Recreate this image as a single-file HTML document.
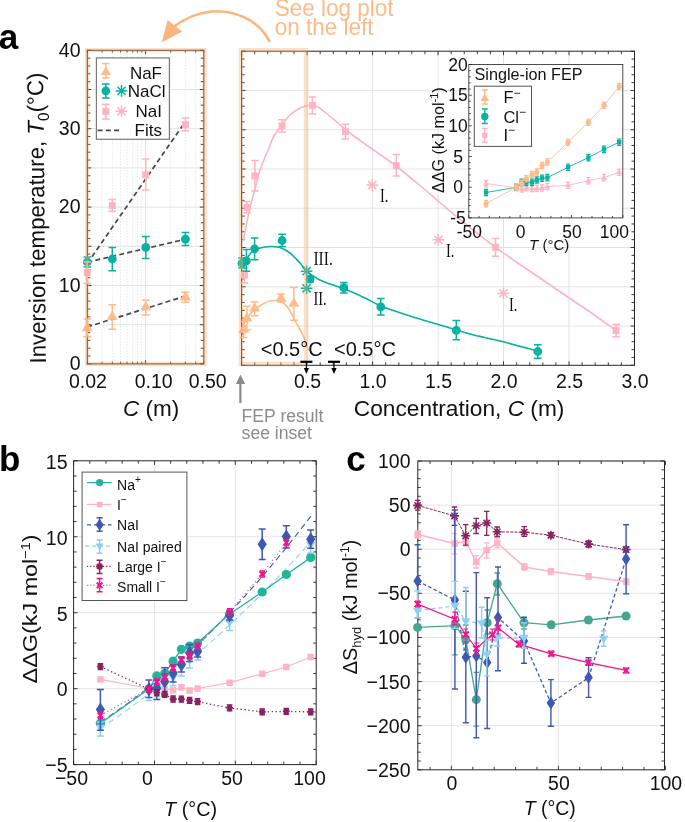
<!DOCTYPE html><html><head><meta charset="utf-8"><style>html,body{margin:0;padding:0;background:#fff;width:685px;height:822px;overflow:hidden}svg{display:block;will-change:transform}</style></head><body>
<svg width="685" height="822" viewBox="0 0 685 822">
<rect width="685" height="822" fill="#fff"/>
<line x1="87.30" y1="324.70" x2="203.80" y2="324.70" stroke="#e3e3e3" stroke-width="1" />
<line x1="87.30" y1="285.50" x2="203.80" y2="285.50" stroke="#e3e3e3" stroke-width="1" />
<line x1="87.30" y1="246.30" x2="203.80" y2="246.30" stroke="#e3e3e3" stroke-width="1" />
<line x1="87.30" y1="207.10" x2="203.80" y2="207.10" stroke="#e3e3e3" stroke-width="1" />
<line x1="87.30" y1="167.90" x2="203.80" y2="167.90" stroke="#e3e3e3" stroke-width="1" />
<line x1="87.30" y1="128.70" x2="203.80" y2="128.70" stroke="#e3e3e3" stroke-width="1" />
<line x1="87.30" y1="89.50" x2="203.80" y2="89.50" stroke="#e3e3e3" stroke-width="1" />
<line x1="101.97" y1="50.30" x2="101.97" y2="363.90" stroke="#d9d9d9" stroke-width="0.8" stroke-dasharray="1.2,1.8"/>
<line x1="112.39" y1="50.30" x2="112.39" y2="363.90" stroke="#d9d9d9" stroke-width="0.8" stroke-dasharray="1.2,1.8"/>
<line x1="120.46" y1="50.30" x2="120.46" y2="363.90" stroke="#d9d9d9" stroke-width="0.8" stroke-dasharray="1.2,1.8"/>
<line x1="127.06" y1="50.30" x2="127.06" y2="363.90" stroke="#d9d9d9" stroke-width="0.8" stroke-dasharray="1.2,1.8"/>
<line x1="132.64" y1="50.30" x2="132.64" y2="363.90" stroke="#d9d9d9" stroke-width="0.8" stroke-dasharray="1.2,1.8"/>
<line x1="137.47" y1="50.30" x2="137.47" y2="363.90" stroke="#d9d9d9" stroke-width="0.8" stroke-dasharray="1.2,1.8"/>
<line x1="141.74" y1="50.30" x2="141.74" y2="363.90" stroke="#d9d9d9" stroke-width="0.8" stroke-dasharray="1.2,1.8"/>
<line x1="170.64" y1="50.30" x2="170.64" y2="363.90" stroke="#d9d9d9" stroke-width="0.8" stroke-dasharray="1.2,1.8"/>
<line x1="185.31" y1="50.30" x2="185.31" y2="363.90" stroke="#d9d9d9" stroke-width="0.8" stroke-dasharray="1.2,1.8"/>
<line x1="195.72" y1="50.30" x2="195.72" y2="363.90" stroke="#d9d9d9" stroke-width="0.8" stroke-dasharray="1.2,1.8"/>
<line x1="145.55" y1="50.30" x2="145.55" y2="363.90" stroke="#e3e3e3" stroke-width="1" />
<rect x="87.3" y="50.3" width="116.50" height="313.60" fill="none" stroke="#262626" stroke-width="1"/>
<line x1="87.30" y1="363.90" x2="91.30" y2="363.90" stroke="#262626" stroke-width="0.9" />
<line x1="203.80" y1="363.90" x2="199.80" y2="363.90" stroke="#262626" stroke-width="0.9" />
<line x1="87.30" y1="356.06" x2="90.30" y2="356.06" stroke="#262626" stroke-width="0.9" />
<line x1="203.80" y1="356.06" x2="200.80" y2="356.06" stroke="#262626" stroke-width="0.9" />
<line x1="87.30" y1="348.22" x2="90.30" y2="348.22" stroke="#262626" stroke-width="0.9" />
<line x1="203.80" y1="348.22" x2="200.80" y2="348.22" stroke="#262626" stroke-width="0.9" />
<line x1="87.30" y1="340.38" x2="90.30" y2="340.38" stroke="#262626" stroke-width="0.9" />
<line x1="203.80" y1="340.38" x2="200.80" y2="340.38" stroke="#262626" stroke-width="0.9" />
<line x1="87.30" y1="332.54" x2="90.30" y2="332.54" stroke="#262626" stroke-width="0.9" />
<line x1="203.80" y1="332.54" x2="200.80" y2="332.54" stroke="#262626" stroke-width="0.9" />
<line x1="87.30" y1="324.70" x2="91.30" y2="324.70" stroke="#262626" stroke-width="0.9" />
<line x1="203.80" y1="324.70" x2="199.80" y2="324.70" stroke="#262626" stroke-width="0.9" />
<line x1="87.30" y1="316.86" x2="90.30" y2="316.86" stroke="#262626" stroke-width="0.9" />
<line x1="203.80" y1="316.86" x2="200.80" y2="316.86" stroke="#262626" stroke-width="0.9" />
<line x1="87.30" y1="309.02" x2="90.30" y2="309.02" stroke="#262626" stroke-width="0.9" />
<line x1="203.80" y1="309.02" x2="200.80" y2="309.02" stroke="#262626" stroke-width="0.9" />
<line x1="87.30" y1="301.18" x2="90.30" y2="301.18" stroke="#262626" stroke-width="0.9" />
<line x1="203.80" y1="301.18" x2="200.80" y2="301.18" stroke="#262626" stroke-width="0.9" />
<line x1="87.30" y1="293.34" x2="90.30" y2="293.34" stroke="#262626" stroke-width="0.9" />
<line x1="203.80" y1="293.34" x2="200.80" y2="293.34" stroke="#262626" stroke-width="0.9" />
<line x1="87.30" y1="285.50" x2="91.30" y2="285.50" stroke="#262626" stroke-width="0.9" />
<line x1="203.80" y1="285.50" x2="199.80" y2="285.50" stroke="#262626" stroke-width="0.9" />
<line x1="87.30" y1="277.66" x2="90.30" y2="277.66" stroke="#262626" stroke-width="0.9" />
<line x1="203.80" y1="277.66" x2="200.80" y2="277.66" stroke="#262626" stroke-width="0.9" />
<line x1="87.30" y1="269.82" x2="90.30" y2="269.82" stroke="#262626" stroke-width="0.9" />
<line x1="203.80" y1="269.82" x2="200.80" y2="269.82" stroke="#262626" stroke-width="0.9" />
<line x1="87.30" y1="261.98" x2="90.30" y2="261.98" stroke="#262626" stroke-width="0.9" />
<line x1="203.80" y1="261.98" x2="200.80" y2="261.98" stroke="#262626" stroke-width="0.9" />
<line x1="87.30" y1="254.14" x2="90.30" y2="254.14" stroke="#262626" stroke-width="0.9" />
<line x1="203.80" y1="254.14" x2="200.80" y2="254.14" stroke="#262626" stroke-width="0.9" />
<line x1="87.30" y1="246.30" x2="91.30" y2="246.30" stroke="#262626" stroke-width="0.9" />
<line x1="203.80" y1="246.30" x2="199.80" y2="246.30" stroke="#262626" stroke-width="0.9" />
<line x1="87.30" y1="238.46" x2="90.30" y2="238.46" stroke="#262626" stroke-width="0.9" />
<line x1="203.80" y1="238.46" x2="200.80" y2="238.46" stroke="#262626" stroke-width="0.9" />
<line x1="87.30" y1="230.62" x2="90.30" y2="230.62" stroke="#262626" stroke-width="0.9" />
<line x1="203.80" y1="230.62" x2="200.80" y2="230.62" stroke="#262626" stroke-width="0.9" />
<line x1="87.30" y1="222.78" x2="90.30" y2="222.78" stroke="#262626" stroke-width="0.9" />
<line x1="203.80" y1="222.78" x2="200.80" y2="222.78" stroke="#262626" stroke-width="0.9" />
<line x1="87.30" y1="214.94" x2="90.30" y2="214.94" stroke="#262626" stroke-width="0.9" />
<line x1="203.80" y1="214.94" x2="200.80" y2="214.94" stroke="#262626" stroke-width="0.9" />
<line x1="87.30" y1="207.10" x2="91.30" y2="207.10" stroke="#262626" stroke-width="0.9" />
<line x1="203.80" y1="207.10" x2="199.80" y2="207.10" stroke="#262626" stroke-width="0.9" />
<line x1="87.30" y1="199.26" x2="90.30" y2="199.26" stroke="#262626" stroke-width="0.9" />
<line x1="203.80" y1="199.26" x2="200.80" y2="199.26" stroke="#262626" stroke-width="0.9" />
<line x1="87.30" y1="191.42" x2="90.30" y2="191.42" stroke="#262626" stroke-width="0.9" />
<line x1="203.80" y1="191.42" x2="200.80" y2="191.42" stroke="#262626" stroke-width="0.9" />
<line x1="87.30" y1="183.58" x2="90.30" y2="183.58" stroke="#262626" stroke-width="0.9" />
<line x1="203.80" y1="183.58" x2="200.80" y2="183.58" stroke="#262626" stroke-width="0.9" />
<line x1="87.30" y1="175.74" x2="90.30" y2="175.74" stroke="#262626" stroke-width="0.9" />
<line x1="203.80" y1="175.74" x2="200.80" y2="175.74" stroke="#262626" stroke-width="0.9" />
<line x1="87.30" y1="167.90" x2="91.30" y2="167.90" stroke="#262626" stroke-width="0.9" />
<line x1="203.80" y1="167.90" x2="199.80" y2="167.90" stroke="#262626" stroke-width="0.9" />
<line x1="87.30" y1="160.06" x2="90.30" y2="160.06" stroke="#262626" stroke-width="0.9" />
<line x1="203.80" y1="160.06" x2="200.80" y2="160.06" stroke="#262626" stroke-width="0.9" />
<line x1="87.30" y1="152.22" x2="90.30" y2="152.22" stroke="#262626" stroke-width="0.9" />
<line x1="203.80" y1="152.22" x2="200.80" y2="152.22" stroke="#262626" stroke-width="0.9" />
<line x1="87.30" y1="144.38" x2="90.30" y2="144.38" stroke="#262626" stroke-width="0.9" />
<line x1="203.80" y1="144.38" x2="200.80" y2="144.38" stroke="#262626" stroke-width="0.9" />
<line x1="87.30" y1="136.54" x2="90.30" y2="136.54" stroke="#262626" stroke-width="0.9" />
<line x1="203.80" y1="136.54" x2="200.80" y2="136.54" stroke="#262626" stroke-width="0.9" />
<line x1="87.30" y1="128.70" x2="91.30" y2="128.70" stroke="#262626" stroke-width="0.9" />
<line x1="203.80" y1="128.70" x2="199.80" y2="128.70" stroke="#262626" stroke-width="0.9" />
<line x1="87.30" y1="120.86" x2="90.30" y2="120.86" stroke="#262626" stroke-width="0.9" />
<line x1="203.80" y1="120.86" x2="200.80" y2="120.86" stroke="#262626" stroke-width="0.9" />
<line x1="87.30" y1="113.02" x2="90.30" y2="113.02" stroke="#262626" stroke-width="0.9" />
<line x1="203.80" y1="113.02" x2="200.80" y2="113.02" stroke="#262626" stroke-width="0.9" />
<line x1="87.30" y1="105.18" x2="90.30" y2="105.18" stroke="#262626" stroke-width="0.9" />
<line x1="203.80" y1="105.18" x2="200.80" y2="105.18" stroke="#262626" stroke-width="0.9" />
<line x1="87.30" y1="97.34" x2="90.30" y2="97.34" stroke="#262626" stroke-width="0.9" />
<line x1="203.80" y1="97.34" x2="200.80" y2="97.34" stroke="#262626" stroke-width="0.9" />
<line x1="87.30" y1="89.50" x2="91.30" y2="89.50" stroke="#262626" stroke-width="0.9" />
<line x1="203.80" y1="89.50" x2="199.80" y2="89.50" stroke="#262626" stroke-width="0.9" />
<line x1="87.30" y1="81.66" x2="90.30" y2="81.66" stroke="#262626" stroke-width="0.9" />
<line x1="203.80" y1="81.66" x2="200.80" y2="81.66" stroke="#262626" stroke-width="0.9" />
<line x1="87.30" y1="73.82" x2="90.30" y2="73.82" stroke="#262626" stroke-width="0.9" />
<line x1="203.80" y1="73.82" x2="200.80" y2="73.82" stroke="#262626" stroke-width="0.9" />
<line x1="87.30" y1="65.98" x2="90.30" y2="65.98" stroke="#262626" stroke-width="0.9" />
<line x1="203.80" y1="65.98" x2="200.80" y2="65.98" stroke="#262626" stroke-width="0.9" />
<line x1="87.30" y1="58.14" x2="90.30" y2="58.14" stroke="#262626" stroke-width="0.9" />
<line x1="203.80" y1="58.14" x2="200.80" y2="58.14" stroke="#262626" stroke-width="0.9" />
<line x1="87.30" y1="50.30" x2="91.30" y2="50.30" stroke="#262626" stroke-width="0.9" />
<line x1="203.80" y1="50.30" x2="199.80" y2="50.30" stroke="#262626" stroke-width="0.9" />
<line x1="87.30" y1="363.90" x2="87.30" y2="361.70" stroke="#262626" stroke-width="0.9" />
<line x1="87.30" y1="50.30" x2="87.30" y2="52.50" stroke="#262626" stroke-width="0.9" />
<line x1="101.97" y1="363.90" x2="101.97" y2="361.70" stroke="#262626" stroke-width="0.9" />
<line x1="101.97" y1="50.30" x2="101.97" y2="52.50" stroke="#262626" stroke-width="0.9" />
<line x1="112.39" y1="363.90" x2="112.39" y2="361.70" stroke="#262626" stroke-width="0.9" />
<line x1="112.39" y1="50.30" x2="112.39" y2="52.50" stroke="#262626" stroke-width="0.9" />
<line x1="120.46" y1="363.90" x2="120.46" y2="361.70" stroke="#262626" stroke-width="0.9" />
<line x1="120.46" y1="50.30" x2="120.46" y2="52.50" stroke="#262626" stroke-width="0.9" />
<line x1="127.06" y1="363.90" x2="127.06" y2="361.70" stroke="#262626" stroke-width="0.9" />
<line x1="127.06" y1="50.30" x2="127.06" y2="52.50" stroke="#262626" stroke-width="0.9" />
<line x1="132.64" y1="363.90" x2="132.64" y2="361.70" stroke="#262626" stroke-width="0.9" />
<line x1="132.64" y1="50.30" x2="132.64" y2="52.50" stroke="#262626" stroke-width="0.9" />
<line x1="137.47" y1="363.90" x2="137.47" y2="361.70" stroke="#262626" stroke-width="0.9" />
<line x1="137.47" y1="50.30" x2="137.47" y2="52.50" stroke="#262626" stroke-width="0.9" />
<line x1="141.74" y1="363.90" x2="141.74" y2="361.70" stroke="#262626" stroke-width="0.9" />
<line x1="141.74" y1="50.30" x2="141.74" y2="52.50" stroke="#262626" stroke-width="0.9" />
<line x1="145.55" y1="363.90" x2="145.55" y2="360.40" stroke="#262626" stroke-width="0.9" />
<line x1="145.55" y1="50.30" x2="145.55" y2="53.80" stroke="#262626" stroke-width="0.9" />
<line x1="170.64" y1="363.90" x2="170.64" y2="361.70" stroke="#262626" stroke-width="0.9" />
<line x1="170.64" y1="50.30" x2="170.64" y2="52.50" stroke="#262626" stroke-width="0.9" />
<line x1="185.31" y1="363.90" x2="185.31" y2="361.70" stroke="#262626" stroke-width="0.9" />
<line x1="185.31" y1="50.30" x2="185.31" y2="52.50" stroke="#262626" stroke-width="0.9" />
<line x1="195.72" y1="363.90" x2="195.72" y2="361.70" stroke="#262626" stroke-width="0.9" />
<line x1="195.72" y1="50.30" x2="195.72" y2="52.50" stroke="#262626" stroke-width="0.9" />
<line x1="203.80" y1="363.90" x2="203.80" y2="361.70" stroke="#262626" stroke-width="0.9" />
<line x1="203.80" y1="50.30" x2="203.80" y2="52.50" stroke="#262626" stroke-width="0.9" />
<line x1="87.30" y1="327.00" x2="185.40" y2="296.00" stroke="#474747" stroke-width="1.7" stroke-dasharray="5,3.2"/>
<line x1="87.30" y1="262.20" x2="185.40" y2="239.20" stroke="#474747" stroke-width="1.7" stroke-dasharray="5,3.2"/>
<line x1="87.30" y1="263.50" x2="184.00" y2="123.50" stroke="#474747" stroke-width="1.7" stroke-dasharray="5,3.2"/>
<path d="M87.30,318.90V336.50M83.40,318.90H91.20M83.40,336.50H91.20" stroke="#fdbc8a" stroke-width="1.5" fill="none"/>
<polygon points="87.30,321.79 92.80,331.14 81.80,331.14" fill="#fdbc8a"/>
<path d="M112.30,304.70V329.30M108.40,304.70H116.20M108.40,329.30H116.20" stroke="#fdbc8a" stroke-width="1.5" fill="none"/>
<polygon points="112.30,310.39 117.80,319.74 106.80,319.74" fill="#fdbc8a"/>
<path d="M145.80,300.30V315.10M141.90,300.30H149.70M141.90,315.10H149.70" stroke="#fdbc8a" stroke-width="1.5" fill="none"/>
<polygon points="145.80,300.99 151.30,310.34 140.30,310.34" fill="#fdbc8a"/>
<path d="M185.40,292.30V302.20M181.50,292.30H189.30M181.50,302.20H189.30" stroke="#fdbc8a" stroke-width="1.5" fill="none"/>
<polygon points="185.40,291.09 190.90,300.44 179.90,300.44" fill="#fdbc8a"/>
<path d="M87.30,257.00V267.00M83.50,257.00H91.10M83.50,267.00H91.10" stroke="#08b2a0" stroke-width="1.5" fill="none"/>
<circle cx="87.30" cy="262.00" r="4.4" fill="#08b2a0"/>
<path d="M112.30,247.50V270.70M108.50,247.50H116.10M108.50,270.70H116.10" stroke="#08b2a0" stroke-width="1.5" fill="none"/>
<circle cx="112.30" cy="259.00" r="4.4" fill="#08b2a0"/>
<path d="M145.80,236.40V258.40M142.00,236.40H149.60M142.00,258.40H149.60" stroke="#08b2a0" stroke-width="1.5" fill="none"/>
<circle cx="145.80" cy="247.40" r="4.4" fill="#08b2a0"/>
<path d="M185.40,232.60V245.50M181.60,232.60H189.20M181.60,245.50H189.20" stroke="#08b2a0" stroke-width="1.5" fill="none"/>
<circle cx="185.40" cy="239.20" r="4.4" fill="#08b2a0"/>
<path d="M87.30,262.00V283.40M83.50,262.00H91.10M83.50,283.40H91.10" stroke="#feb4c4" stroke-width="1.5" fill="none"/>
<rect x="83.85" y="269.05" width="6.9" height="6.9" fill="#feb4c4"/>
<path d="M112.30,199.50V211.30M108.50,199.50H116.10M108.50,211.30H116.10" stroke="#feb4c4" stroke-width="1.5" fill="none"/>
<rect x="108.85" y="202.15" width="6.9" height="6.9" fill="#feb4c4"/>
<path d="M145.80,159.00V190.00M142.00,159.00H149.60M142.00,190.00H149.60" stroke="#feb4c4" stroke-width="1.5" fill="none"/>
<rect x="142.35" y="171.35" width="6.9" height="6.9" fill="#feb4c4"/>
<path d="M185.40,118.10V130.70M181.60,118.10H189.20M181.60,130.70H189.20" stroke="#feb4c4" stroke-width="1.5" fill="none"/>
<rect x="181.95" y="121.05" width="6.9" height="6.9" fill="#feb4c4"/>
<rect x="96.4" y="57.9" width="73" height="81.4" fill="#fff" stroke="#7a7a7a" stroke-width="1.2"/>
<path d="M105.80,63.40V78.00M102.00,63.40H109.60M102.00,78.00H109.60" stroke="#fdbc8a" stroke-width="1.5" fill="none"/>
<polygon points="105.80,66.20 111.00,75.04 100.60,75.04" fill="#fdbc8a"/>
<path d="M105.80,83.90V98.10M102.00,83.90H109.60M102.00,98.10H109.60" stroke="#08b2a0" stroke-width="1.5" fill="none"/>
<circle cx="105.80" cy="90.90" r="4.3" fill="#08b2a0"/>
<path d="M115.70,90.90L127.30,90.90M117.40,86.80L125.60,95.00M121.50,85.10L121.50,96.70M125.60,86.80L117.40,95.00" stroke="#08b2a0" stroke-width="1.5" fill="none"/>
<path d="M105.80,104.30V119.00M102.00,104.30H109.60M102.00,119.00H109.60" stroke="#feb4c4" stroke-width="1.5" fill="none"/>
<rect x="102.35" y="107.85" width="6.9" height="6.9" fill="#feb4c4"/>
<path d="M115.70,111.30L127.30,111.30M117.40,107.20L125.60,115.40M121.50,105.50L121.50,117.10M125.60,107.20L117.40,115.40" stroke="#feb4c4" stroke-width="1.5" fill="none"/>
<line x1="97.60" y1="130.40" x2="122.00" y2="130.40" stroke="#474747" stroke-width="1.8" stroke-dasharray="5,3.2"/>
<text x="162.00" y="78.60" font-size="17" text-anchor="end" fill="#111" font-family='"Liberation Sans", sans-serif' >NaF</text>
<text x="165.50" y="96.70" font-size="17" text-anchor="end" fill="#111" font-family='"Liberation Sans", sans-serif' >NaCl</text>
<text x="162.00" y="116.60" font-size="17" text-anchor="end" fill="#111" font-family='"Liberation Sans", sans-serif' >NaI</text>
<text x="162.00" y="136.00" font-size="17" text-anchor="end" fill="#111" font-family='"Liberation Sans", sans-serif' >Fits</text>
<rect x="87.1" y="50.1" width="117.8" height="314.0" fill="none" stroke="rgba(250,170,105,0.36)" stroke-width="4.4"/>
<text transform="translate(80.50,370.10) scale(1,1.06)" x="0" y="0" font-size="19.5" text-anchor="end" fill="#111" font-family='"Liberation Sans", sans-serif' >0</text>
<text transform="translate(80.50,291.70) scale(1,1.06)" x="0" y="0" font-size="19.5" text-anchor="end" fill="#111" font-family='"Liberation Sans", sans-serif' >10</text>
<text transform="translate(80.50,213.30) scale(1,1.06)" x="0" y="0" font-size="19.5" text-anchor="end" fill="#111" font-family='"Liberation Sans", sans-serif' >20</text>
<text transform="translate(80.50,134.90) scale(1,1.06)" x="0" y="0" font-size="19.5" text-anchor="end" fill="#111" font-family='"Liberation Sans", sans-serif' >30</text>
<text transform="translate(80.50,56.50) scale(1,1.06)" x="0" y="0" font-size="19.5" text-anchor="end" fill="#111" font-family='"Liberation Sans", sans-serif' >40</text>
<text transform="translate(87.90,387.60) scale(1,1.06)" x="0" y="0" font-size="19.5" text-anchor="middle" fill="#111" font-family='"Liberation Sans", sans-serif' >0.02</text>
<text transform="translate(153.60,387.60) scale(1,1.06)" x="0" y="0" font-size="19.5" text-anchor="middle" fill="#111" font-family='"Liberation Sans", sans-serif' >0.10</text>
<text transform="translate(207.60,387.60) scale(1,1.06)" x="0" y="0" font-size="19.5" text-anchor="middle" fill="#111" font-family='"Liberation Sans", sans-serif' >0.50</text>
<text x="151.20" y="415.80" font-size="22.5" text-anchor="middle" fill="#111" font-family='"Liberation Sans", sans-serif' ><tspan font-style="italic">C</tspan> (m)</text>
<text transform="translate(45.9,363.5) rotate(-90.55)" textLength="291" lengthAdjust="spacingAndGlyphs" font-size="23" font-family='"Liberation Sans", sans-serif' fill="#111">Inversion temperature, <tspan font-style="italic">T</tspan><tspan font-size="16" dy="5.5">0</tspan><tspan dy="-5.5">(°C)</tspan></text>
<text x="-1.20" y="49.20" font-size="35" text-anchor="start" fill="#000" font-family='"Liberation Sans", sans-serif' font-weight="bold">a</text>
<line x1="241.60" y1="326.04" x2="634.50" y2="326.04" stroke="#e3e3e3" stroke-width="1" />
<line x1="241.60" y1="286.77" x2="634.50" y2="286.77" stroke="#e3e3e3" stroke-width="1" />
<line x1="241.60" y1="247.51" x2="634.50" y2="247.51" stroke="#e3e3e3" stroke-width="1" />
<line x1="241.60" y1="208.25" x2="634.50" y2="208.25" stroke="#e3e3e3" stroke-width="1" />
<line x1="241.60" y1="168.99" x2="634.50" y2="168.99" stroke="#e3e3e3" stroke-width="1" />
<line x1="241.60" y1="129.73" x2="634.50" y2="129.73" stroke="#e3e3e3" stroke-width="1" />
<line x1="241.60" y1="90.46" x2="634.50" y2="90.46" stroke="#e3e3e3" stroke-width="1" />
<line x1="307.08" y1="51.20" x2="307.08" y2="365.30" stroke="#e3e3e3" stroke-width="1" />
<line x1="372.57" y1="51.20" x2="372.57" y2="365.30" stroke="#e3e3e3" stroke-width="1" />
<line x1="438.05" y1="51.20" x2="438.05" y2="365.30" stroke="#e3e3e3" stroke-width="1" />
<line x1="503.53" y1="51.20" x2="503.53" y2="365.30" stroke="#e3e3e3" stroke-width="1" />
<line x1="569.02" y1="51.20" x2="569.02" y2="365.30" stroke="#e3e3e3" stroke-width="1" />
<rect x="241.6" y="51.2" width="392.90" height="314.10" fill="none" stroke="#262626" stroke-width="1"/>
<line x1="241.60" y1="365.30" x2="245.60" y2="365.30" stroke="#262626" stroke-width="0.9" />
<line x1="634.50" y1="365.30" x2="630.50" y2="365.30" stroke="#262626" stroke-width="0.9" />
<line x1="241.60" y1="357.45" x2="244.60" y2="357.45" stroke="#262626" stroke-width="0.9" />
<line x1="634.50" y1="357.45" x2="631.50" y2="357.45" stroke="#262626" stroke-width="0.9" />
<line x1="241.60" y1="349.60" x2="244.60" y2="349.60" stroke="#262626" stroke-width="0.9" />
<line x1="634.50" y1="349.60" x2="631.50" y2="349.60" stroke="#262626" stroke-width="0.9" />
<line x1="241.60" y1="341.74" x2="244.60" y2="341.74" stroke="#262626" stroke-width="0.9" />
<line x1="634.50" y1="341.74" x2="631.50" y2="341.74" stroke="#262626" stroke-width="0.9" />
<line x1="241.60" y1="333.89" x2="244.60" y2="333.89" stroke="#262626" stroke-width="0.9" />
<line x1="634.50" y1="333.89" x2="631.50" y2="333.89" stroke="#262626" stroke-width="0.9" />
<line x1="241.60" y1="326.04" x2="245.60" y2="326.04" stroke="#262626" stroke-width="0.9" />
<line x1="634.50" y1="326.04" x2="630.50" y2="326.04" stroke="#262626" stroke-width="0.9" />
<line x1="241.60" y1="318.19" x2="244.60" y2="318.19" stroke="#262626" stroke-width="0.9" />
<line x1="634.50" y1="318.19" x2="631.50" y2="318.19" stroke="#262626" stroke-width="0.9" />
<line x1="241.60" y1="310.33" x2="244.60" y2="310.33" stroke="#262626" stroke-width="0.9" />
<line x1="634.50" y1="310.33" x2="631.50" y2="310.33" stroke="#262626" stroke-width="0.9" />
<line x1="241.60" y1="302.48" x2="244.60" y2="302.48" stroke="#262626" stroke-width="0.9" />
<line x1="634.50" y1="302.48" x2="631.50" y2="302.48" stroke="#262626" stroke-width="0.9" />
<line x1="241.60" y1="294.63" x2="244.60" y2="294.63" stroke="#262626" stroke-width="0.9" />
<line x1="634.50" y1="294.63" x2="631.50" y2="294.63" stroke="#262626" stroke-width="0.9" />
<line x1="241.60" y1="286.77" x2="245.60" y2="286.77" stroke="#262626" stroke-width="0.9" />
<line x1="634.50" y1="286.77" x2="630.50" y2="286.77" stroke="#262626" stroke-width="0.9" />
<line x1="241.60" y1="278.92" x2="244.60" y2="278.92" stroke="#262626" stroke-width="0.9" />
<line x1="634.50" y1="278.92" x2="631.50" y2="278.92" stroke="#262626" stroke-width="0.9" />
<line x1="241.60" y1="271.07" x2="244.60" y2="271.07" stroke="#262626" stroke-width="0.9" />
<line x1="634.50" y1="271.07" x2="631.50" y2="271.07" stroke="#262626" stroke-width="0.9" />
<line x1="241.60" y1="263.22" x2="244.60" y2="263.22" stroke="#262626" stroke-width="0.9" />
<line x1="634.50" y1="263.22" x2="631.50" y2="263.22" stroke="#262626" stroke-width="0.9" />
<line x1="241.60" y1="255.37" x2="244.60" y2="255.37" stroke="#262626" stroke-width="0.9" />
<line x1="634.50" y1="255.37" x2="631.50" y2="255.37" stroke="#262626" stroke-width="0.9" />
<line x1="241.60" y1="247.51" x2="245.60" y2="247.51" stroke="#262626" stroke-width="0.9" />
<line x1="634.50" y1="247.51" x2="630.50" y2="247.51" stroke="#262626" stroke-width="0.9" />
<line x1="241.60" y1="239.66" x2="244.60" y2="239.66" stroke="#262626" stroke-width="0.9" />
<line x1="634.50" y1="239.66" x2="631.50" y2="239.66" stroke="#262626" stroke-width="0.9" />
<line x1="241.60" y1="231.81" x2="244.60" y2="231.81" stroke="#262626" stroke-width="0.9" />
<line x1="634.50" y1="231.81" x2="631.50" y2="231.81" stroke="#262626" stroke-width="0.9" />
<line x1="241.60" y1="223.96" x2="244.60" y2="223.96" stroke="#262626" stroke-width="0.9" />
<line x1="634.50" y1="223.96" x2="631.50" y2="223.96" stroke="#262626" stroke-width="0.9" />
<line x1="241.60" y1="216.10" x2="244.60" y2="216.10" stroke="#262626" stroke-width="0.9" />
<line x1="634.50" y1="216.10" x2="631.50" y2="216.10" stroke="#262626" stroke-width="0.9" />
<line x1="241.60" y1="208.25" x2="245.60" y2="208.25" stroke="#262626" stroke-width="0.9" />
<line x1="634.50" y1="208.25" x2="630.50" y2="208.25" stroke="#262626" stroke-width="0.9" />
<line x1="241.60" y1="200.40" x2="244.60" y2="200.40" stroke="#262626" stroke-width="0.9" />
<line x1="634.50" y1="200.40" x2="631.50" y2="200.40" stroke="#262626" stroke-width="0.9" />
<line x1="241.60" y1="192.54" x2="244.60" y2="192.54" stroke="#262626" stroke-width="0.9" />
<line x1="634.50" y1="192.54" x2="631.50" y2="192.54" stroke="#262626" stroke-width="0.9" />
<line x1="241.60" y1="184.69" x2="244.60" y2="184.69" stroke="#262626" stroke-width="0.9" />
<line x1="634.50" y1="184.69" x2="631.50" y2="184.69" stroke="#262626" stroke-width="0.9" />
<line x1="241.60" y1="176.84" x2="244.60" y2="176.84" stroke="#262626" stroke-width="0.9" />
<line x1="634.50" y1="176.84" x2="631.50" y2="176.84" stroke="#262626" stroke-width="0.9" />
<line x1="241.60" y1="168.99" x2="245.60" y2="168.99" stroke="#262626" stroke-width="0.9" />
<line x1="634.50" y1="168.99" x2="630.50" y2="168.99" stroke="#262626" stroke-width="0.9" />
<line x1="241.60" y1="161.13" x2="244.60" y2="161.13" stroke="#262626" stroke-width="0.9" />
<line x1="634.50" y1="161.13" x2="631.50" y2="161.13" stroke="#262626" stroke-width="0.9" />
<line x1="241.60" y1="153.28" x2="244.60" y2="153.28" stroke="#262626" stroke-width="0.9" />
<line x1="634.50" y1="153.28" x2="631.50" y2="153.28" stroke="#262626" stroke-width="0.9" />
<line x1="241.60" y1="145.43" x2="244.60" y2="145.43" stroke="#262626" stroke-width="0.9" />
<line x1="634.50" y1="145.43" x2="631.50" y2="145.43" stroke="#262626" stroke-width="0.9" />
<line x1="241.60" y1="137.58" x2="244.60" y2="137.58" stroke="#262626" stroke-width="0.9" />
<line x1="634.50" y1="137.58" x2="631.50" y2="137.58" stroke="#262626" stroke-width="0.9" />
<line x1="241.60" y1="129.73" x2="245.60" y2="129.73" stroke="#262626" stroke-width="0.9" />
<line x1="634.50" y1="129.73" x2="630.50" y2="129.73" stroke="#262626" stroke-width="0.9" />
<line x1="241.60" y1="121.87" x2="244.60" y2="121.87" stroke="#262626" stroke-width="0.9" />
<line x1="634.50" y1="121.87" x2="631.50" y2="121.87" stroke="#262626" stroke-width="0.9" />
<line x1="241.60" y1="114.02" x2="244.60" y2="114.02" stroke="#262626" stroke-width="0.9" />
<line x1="634.50" y1="114.02" x2="631.50" y2="114.02" stroke="#262626" stroke-width="0.9" />
<line x1="241.60" y1="106.17" x2="244.60" y2="106.17" stroke="#262626" stroke-width="0.9" />
<line x1="634.50" y1="106.17" x2="631.50" y2="106.17" stroke="#262626" stroke-width="0.9" />
<line x1="241.60" y1="98.31" x2="244.60" y2="98.31" stroke="#262626" stroke-width="0.9" />
<line x1="634.50" y1="98.31" x2="631.50" y2="98.31" stroke="#262626" stroke-width="0.9" />
<line x1="241.60" y1="90.46" x2="245.60" y2="90.46" stroke="#262626" stroke-width="0.9" />
<line x1="634.50" y1="90.46" x2="630.50" y2="90.46" stroke="#262626" stroke-width="0.9" />
<line x1="241.60" y1="82.61" x2="244.60" y2="82.61" stroke="#262626" stroke-width="0.9" />
<line x1="634.50" y1="82.61" x2="631.50" y2="82.61" stroke="#262626" stroke-width="0.9" />
<line x1="241.60" y1="74.76" x2="244.60" y2="74.76" stroke="#262626" stroke-width="0.9" />
<line x1="634.50" y1="74.76" x2="631.50" y2="74.76" stroke="#262626" stroke-width="0.9" />
<line x1="241.60" y1="66.90" x2="244.60" y2="66.90" stroke="#262626" stroke-width="0.9" />
<line x1="634.50" y1="66.90" x2="631.50" y2="66.90" stroke="#262626" stroke-width="0.9" />
<line x1="241.60" y1="59.05" x2="244.60" y2="59.05" stroke="#262626" stroke-width="0.9" />
<line x1="634.50" y1="59.05" x2="631.50" y2="59.05" stroke="#262626" stroke-width="0.9" />
<line x1="241.60" y1="51.20" x2="245.60" y2="51.20" stroke="#262626" stroke-width="0.9" />
<line x1="634.50" y1="51.20" x2="630.50" y2="51.20" stroke="#262626" stroke-width="0.9" />
<line x1="241.60" y1="365.30" x2="241.60" y2="361.30" stroke="#262626" stroke-width="0.9" />
<line x1="241.60" y1="51.20" x2="241.60" y2="55.20" stroke="#262626" stroke-width="0.9" />
<line x1="254.70" y1="365.30" x2="254.70" y2="362.30" stroke="#262626" stroke-width="0.9" />
<line x1="254.70" y1="51.20" x2="254.70" y2="54.20" stroke="#262626" stroke-width="0.9" />
<line x1="267.79" y1="365.30" x2="267.79" y2="362.30" stroke="#262626" stroke-width="0.9" />
<line x1="267.79" y1="51.20" x2="267.79" y2="54.20" stroke="#262626" stroke-width="0.9" />
<line x1="280.89" y1="365.30" x2="280.89" y2="362.30" stroke="#262626" stroke-width="0.9" />
<line x1="280.89" y1="51.20" x2="280.89" y2="54.20" stroke="#262626" stroke-width="0.9" />
<line x1="293.99" y1="365.30" x2="293.99" y2="362.30" stroke="#262626" stroke-width="0.9" />
<line x1="293.99" y1="51.20" x2="293.99" y2="54.20" stroke="#262626" stroke-width="0.9" />
<line x1="307.08" y1="365.30" x2="307.08" y2="361.30" stroke="#262626" stroke-width="0.9" />
<line x1="307.08" y1="51.20" x2="307.08" y2="55.20" stroke="#262626" stroke-width="0.9" />
<line x1="320.18" y1="365.30" x2="320.18" y2="362.30" stroke="#262626" stroke-width="0.9" />
<line x1="320.18" y1="51.20" x2="320.18" y2="54.20" stroke="#262626" stroke-width="0.9" />
<line x1="333.28" y1="365.30" x2="333.28" y2="362.30" stroke="#262626" stroke-width="0.9" />
<line x1="333.28" y1="51.20" x2="333.28" y2="54.20" stroke="#262626" stroke-width="0.9" />
<line x1="346.37" y1="365.30" x2="346.37" y2="362.30" stroke="#262626" stroke-width="0.9" />
<line x1="346.37" y1="51.20" x2="346.37" y2="54.20" stroke="#262626" stroke-width="0.9" />
<line x1="359.47" y1="365.30" x2="359.47" y2="362.30" stroke="#262626" stroke-width="0.9" />
<line x1="359.47" y1="51.20" x2="359.47" y2="54.20" stroke="#262626" stroke-width="0.9" />
<line x1="372.57" y1="365.30" x2="372.57" y2="361.30" stroke="#262626" stroke-width="0.9" />
<line x1="372.57" y1="51.20" x2="372.57" y2="55.20" stroke="#262626" stroke-width="0.9" />
<line x1="385.66" y1="365.30" x2="385.66" y2="362.30" stroke="#262626" stroke-width="0.9" />
<line x1="385.66" y1="51.20" x2="385.66" y2="54.20" stroke="#262626" stroke-width="0.9" />
<line x1="398.76" y1="365.30" x2="398.76" y2="362.30" stroke="#262626" stroke-width="0.9" />
<line x1="398.76" y1="51.20" x2="398.76" y2="54.20" stroke="#262626" stroke-width="0.9" />
<line x1="411.86" y1="365.30" x2="411.86" y2="362.30" stroke="#262626" stroke-width="0.9" />
<line x1="411.86" y1="51.20" x2="411.86" y2="54.20" stroke="#262626" stroke-width="0.9" />
<line x1="424.95" y1="365.30" x2="424.95" y2="362.30" stroke="#262626" stroke-width="0.9" />
<line x1="424.95" y1="51.20" x2="424.95" y2="54.20" stroke="#262626" stroke-width="0.9" />
<line x1="438.05" y1="365.30" x2="438.05" y2="361.30" stroke="#262626" stroke-width="0.9" />
<line x1="438.05" y1="51.20" x2="438.05" y2="55.20" stroke="#262626" stroke-width="0.9" />
<line x1="451.15" y1="365.30" x2="451.15" y2="362.30" stroke="#262626" stroke-width="0.9" />
<line x1="451.15" y1="51.20" x2="451.15" y2="54.20" stroke="#262626" stroke-width="0.9" />
<line x1="464.24" y1="365.30" x2="464.24" y2="362.30" stroke="#262626" stroke-width="0.9" />
<line x1="464.24" y1="51.20" x2="464.24" y2="54.20" stroke="#262626" stroke-width="0.9" />
<line x1="477.34" y1="365.30" x2="477.34" y2="362.30" stroke="#262626" stroke-width="0.9" />
<line x1="477.34" y1="51.20" x2="477.34" y2="54.20" stroke="#262626" stroke-width="0.9" />
<line x1="490.44" y1="365.30" x2="490.44" y2="362.30" stroke="#262626" stroke-width="0.9" />
<line x1="490.44" y1="51.20" x2="490.44" y2="54.20" stroke="#262626" stroke-width="0.9" />
<line x1="503.53" y1="365.30" x2="503.53" y2="361.30" stroke="#262626" stroke-width="0.9" />
<line x1="503.53" y1="51.20" x2="503.53" y2="55.20" stroke="#262626" stroke-width="0.9" />
<line x1="516.63" y1="365.30" x2="516.63" y2="362.30" stroke="#262626" stroke-width="0.9" />
<line x1="516.63" y1="51.20" x2="516.63" y2="54.20" stroke="#262626" stroke-width="0.9" />
<line x1="529.73" y1="365.30" x2="529.73" y2="362.30" stroke="#262626" stroke-width="0.9" />
<line x1="529.73" y1="51.20" x2="529.73" y2="54.20" stroke="#262626" stroke-width="0.9" />
<line x1="542.82" y1="365.30" x2="542.82" y2="362.30" stroke="#262626" stroke-width="0.9" />
<line x1="542.82" y1="51.20" x2="542.82" y2="54.20" stroke="#262626" stroke-width="0.9" />
<line x1="555.92" y1="365.30" x2="555.92" y2="362.30" stroke="#262626" stroke-width="0.9" />
<line x1="555.92" y1="51.20" x2="555.92" y2="54.20" stroke="#262626" stroke-width="0.9" />
<line x1="569.02" y1="365.30" x2="569.02" y2="361.30" stroke="#262626" stroke-width="0.9" />
<line x1="569.02" y1="51.20" x2="569.02" y2="55.20" stroke="#262626" stroke-width="0.9" />
<line x1="582.11" y1="365.30" x2="582.11" y2="362.30" stroke="#262626" stroke-width="0.9" />
<line x1="582.11" y1="51.20" x2="582.11" y2="54.20" stroke="#262626" stroke-width="0.9" />
<line x1="595.21" y1="365.30" x2="595.21" y2="362.30" stroke="#262626" stroke-width="0.9" />
<line x1="595.21" y1="51.20" x2="595.21" y2="54.20" stroke="#262626" stroke-width="0.9" />
<line x1="608.31" y1="365.30" x2="608.31" y2="362.30" stroke="#262626" stroke-width="0.9" />
<line x1="608.31" y1="51.20" x2="608.31" y2="54.20" stroke="#262626" stroke-width="0.9" />
<line x1="621.40" y1="365.30" x2="621.40" y2="362.30" stroke="#262626" stroke-width="0.9" />
<line x1="621.40" y1="51.20" x2="621.40" y2="54.20" stroke="#262626" stroke-width="0.9" />
<line x1="634.50" y1="365.30" x2="634.50" y2="361.30" stroke="#262626" stroke-width="0.9" />
<line x1="634.50" y1="51.20" x2="634.50" y2="55.20" stroke="#262626" stroke-width="0.9" />
<path d="M243.30,241.00C244.25,236.17 247.07,220.63 249.00,212.00C250.93,203.37 253.07,196.20 254.90,189.20C256.73,182.20 257.93,176.20 260.00,170.00C262.07,163.80 264.97,157.67 267.30,152.00C269.63,146.33 271.53,140.55 274.00,136.00C276.47,131.45 279.43,128.20 282.10,124.70C284.77,121.20 287.52,117.48 290.00,115.00C292.48,112.52 294.67,111.22 297.00,109.80C299.33,108.38 301.52,107.27 304.00,106.50C306.48,105.73 309.57,105.12 311.90,105.20C314.23,105.28 315.65,105.70 318.00,107.00C320.35,108.30 322.67,110.33 326.00,113.00C329.33,115.67 334.00,119.67 338.00,123.00C342.00,126.33 345.50,129.50 350.00,133.00C354.50,136.50 360.00,140.42 365.00,144.00C370.00,147.58 374.83,150.83 380.00,154.50C385.17,158.17 389.33,160.83 396.00,166.00C402.67,171.17 412.67,179.42 420.00,185.50C427.33,191.58 433.42,196.92 440.00,202.50C446.58,208.08 452.83,213.50 459.50,219.00C466.17,224.50 474.00,230.78 480.00,235.50C486.00,240.22 488.83,242.47 495.50,247.30C502.17,252.13 511.75,258.80 520.00,264.50C528.25,270.20 536.67,275.83 545.00,281.50C553.33,287.17 561.67,292.83 570.00,298.50C578.33,304.17 587.33,310.17 595.00,315.50C602.67,320.83 612.50,328.00 616.00,330.50" fill="none" stroke="#feb4c4" stroke-width="1.6"/>
<path d="M241.60,268.00C242.33,266.67 244.27,262.67 246.00,260.00C247.73,257.33 249.67,254.00 252.00,252.00C254.33,250.00 257.00,248.92 260.00,248.00C263.00,247.08 266.67,246.58 270.00,246.50C273.33,246.42 276.67,246.42 280.00,247.50C283.33,248.58 286.67,250.42 290.00,253.00C293.33,255.58 297.00,259.83 300.00,263.00C303.00,266.17 305.00,269.33 308.00,272.00C311.00,274.67 314.33,277.00 318.00,279.00C321.67,281.00 325.50,282.33 330.00,284.00C334.50,285.67 339.17,286.67 345.00,289.00C350.83,291.33 359.00,295.17 365.00,298.00C371.00,300.83 373.50,303.00 381.00,306.00C388.50,309.00 400.17,312.83 410.00,316.00C419.83,319.17 430.00,322.00 440.00,325.00C450.00,328.00 460.00,331.33 470.00,334.00C480.00,336.67 488.67,338.17 500.00,341.00C511.33,343.83 531.67,349.33 538.00,351.00" fill="none" stroke="#08b2a0" stroke-width="1.6"/>
<path d="M241.60,330.00C242.40,328.12 244.17,322.17 246.40,318.70C248.63,315.23 252.23,311.65 255.00,309.20C257.77,306.75 260.33,305.40 263.00,304.00C265.67,302.60 268.03,301.23 271.00,300.80C273.97,300.37 277.88,300.12 280.80,301.40C283.72,302.68 285.95,304.95 288.50,308.50C291.05,312.05 293.92,318.68 296.10,322.70C298.28,326.72 299.95,329.32 301.60,332.60C303.25,335.88 304.90,339.42 306.00,342.40C307.10,345.38 307.83,349.15 308.20,350.50" fill="none" stroke="#fdbc8a" stroke-width="1.6"/>
<path d="M246.90,201.60V212.80M243.10,201.60H250.70M243.10,212.80H250.70" stroke="#feb4c4" stroke-width="1.5" fill="none"/>
<rect x="243.45" y="203.85" width="6.9" height="6.9" fill="#feb4c4"/>
<path d="M254.90,160.60V190.90M251.10,160.60H258.70M251.10,190.90H258.70" stroke="#feb4c4" stroke-width="1.5" fill="none"/>
<rect x="251.45" y="172.55" width="6.9" height="6.9" fill="#feb4c4"/>
<path d="M282.10,119.70V132.10M278.30,119.70H285.90M278.30,132.10H285.90" stroke="#feb4c4" stroke-width="1.5" fill="none"/>
<rect x="278.65" y="122.45" width="6.9" height="6.9" fill="#feb4c4"/>
<path d="M312.40,96.90V114.00M308.60,96.90H316.20M308.60,114.00H316.20" stroke="#feb4c4" stroke-width="1.5" fill="none"/>
<rect x="308.95" y="101.85" width="6.9" height="6.9" fill="#feb4c4"/>
<path d="M345.40,124.20V139.00M341.60,124.20H349.20M341.60,139.00H349.20" stroke="#feb4c4" stroke-width="1.5" fill="none"/>
<rect x="341.95" y="128.15" width="6.9" height="6.9" fill="#feb4c4"/>
<path d="M396.30,154.40V176.00M392.50,154.40H400.10M392.50,176.00H400.10" stroke="#feb4c4" stroke-width="1.5" fill="none"/>
<rect x="392.85" y="162.15" width="6.9" height="6.9" fill="#feb4c4"/>
<path d="M495.50,238.60V256.20M491.70,238.60H499.30M491.70,256.20H499.30" stroke="#feb4c4" stroke-width="1.5" fill="none"/>
<rect x="492.05" y="243.85" width="6.9" height="6.9" fill="#feb4c4"/>
<path d="M616.10,324.50V336.70M612.30,324.50H619.90M612.30,336.70H619.90" stroke="#feb4c4" stroke-width="1.5" fill="none"/>
<rect x="612.65" y="327.05" width="6.9" height="6.9" fill="#feb4c4"/>
<path d="M244.50,268.00V283.00M240.70,268.00H248.30M240.70,283.00H248.30" stroke="#feb4c4" stroke-width="1.5" fill="none"/>
<rect x="241.05" y="271.55" width="6.9" height="6.9" fill="#feb4c4"/>
<path d="M246.40,249.40V271.20M242.60,249.40H250.20M242.60,271.20H250.20" stroke="#08b2a0" stroke-width="1.5" fill="none"/>
<circle cx="246.40" cy="260.80" r="4.4" fill="#08b2a0"/>
<path d="M254.60,238.00V259.80M250.80,238.00H258.40M250.80,259.80H258.40" stroke="#08b2a0" stroke-width="1.5" fill="none"/>
<circle cx="254.60" cy="248.80" r="4.4" fill="#08b2a0"/>
<path d="M282.10,234.20V246.60M278.30,234.20H285.90M278.30,246.60H285.90" stroke="#08b2a0" stroke-width="1.5" fill="none"/>
<circle cx="282.10" cy="240.50" r="4.4" fill="#08b2a0"/>
<path d="M310.00,276.00V282.00M306.20,276.00H313.80M306.20,282.00H313.80" stroke="#08b2a0" stroke-width="1.5" fill="none"/>
<circle cx="310.00" cy="279.20" r="4.4" fill="#08b2a0"/>
<path d="M343.80,282.60V293.00M340.00,282.60H347.60M340.00,293.00H347.60" stroke="#08b2a0" stroke-width="1.5" fill="none"/>
<circle cx="343.80" cy="287.70" r="4.4" fill="#08b2a0"/>
<path d="M380.80,298.60V315.00M377.00,298.60H384.60M377.00,315.00H384.60" stroke="#08b2a0" stroke-width="1.5" fill="none"/>
<circle cx="380.80" cy="306.90" r="4.4" fill="#08b2a0"/>
<path d="M456.30,320.50V339.80M452.50,320.50H460.10M452.50,339.80H460.10" stroke="#08b2a0" stroke-width="1.5" fill="none"/>
<circle cx="456.30" cy="330.40" r="4.4" fill="#08b2a0"/>
<path d="M537.80,344.80V358.30M534.00,344.80H541.60M534.00,358.30H541.60" stroke="#08b2a0" stroke-width="1.5" fill="none"/>
<circle cx="537.80" cy="351.50" r="4.4" fill="#08b2a0"/>
<path d="M242.00,258.00V268.00M238.20,258.00H245.80M238.20,268.00H245.80" stroke="#08b2a0" stroke-width="1.5" fill="none"/>
<circle cx="242.00" cy="263.30" r="4.4" fill="#08b2a0"/>
<path d="M243.60,321.50V337.60M239.70,321.50H247.50M239.70,337.60H247.50" stroke="#fdbc8a" stroke-width="1.5" fill="none"/>
<polygon points="243.60,323.49 249.10,332.84 238.10,332.84" fill="#fdbc8a"/>
<path d="M247.00,306.30V330.00M243.10,306.30H250.90M243.10,330.00H250.90" stroke="#fdbc8a" stroke-width="1.5" fill="none"/>
<polygon points="247.00,312.09 252.50,321.44 241.50,321.44" fill="#fdbc8a"/>
<path d="M254.60,302.00V315.80M250.70,302.00H258.50M250.70,315.80H258.50" stroke="#fdbc8a" stroke-width="1.5" fill="none"/>
<polygon points="254.60,302.09 260.10,311.44 249.10,311.44" fill="#fdbc8a"/>
<path d="M281.00,294.00V302.00M277.10,294.00H284.90M277.10,302.00H284.90" stroke="#fdbc8a" stroke-width="1.5" fill="none"/>
<polygon points="281.00,292.19 286.50,301.54 275.50,301.54" fill="#fdbc8a"/>
<path d="M293.90,287.40V320.20M290.00,287.40H297.80M290.00,320.20H297.80" stroke="#fdbc8a" stroke-width="1.5" fill="none"/>
<polygon points="293.90,297.49 299.40,306.84 288.40,306.84" fill="#fdbc8a"/>
<path d="M300.80,271.20L312.40,271.20M302.50,267.10L310.70,275.30M306.60,265.40L306.60,277.00M310.70,267.10L302.50,275.30" stroke="#08b2a0" stroke-width="1.5" fill="none"/>
<path d="M300.80,288.30L312.40,288.30M302.50,284.20L310.70,292.40M306.60,282.50L306.60,294.10M310.70,284.20L302.50,292.40" stroke="#08b2a0" stroke-width="1.5" fill="none"/>
<path d="M366.40,185.00L378.00,185.00M368.10,180.90L376.30,189.10M372.20,179.20L372.20,190.80M376.30,180.90L368.10,189.10" stroke="#feb4c4" stroke-width="1.5" fill="none"/>
<path d="M432.60,239.80L444.20,239.80M434.30,235.70L442.50,243.90M438.40,234.00L438.40,245.60M442.50,235.70L434.30,243.90" stroke="#feb4c4" stroke-width="1.5" fill="none"/>
<path d="M497.60,293.40L509.20,293.40M499.30,289.30L507.50,297.50M503.40,287.60L503.40,299.20M507.50,289.30L499.30,297.50" stroke="#feb4c4" stroke-width="1.5" fill="none"/>
<text x="313.40" y="265.00" font-size="18.5" text-anchor="start" fill="#111" font-family='"Liberation Serif", serif' textLength="19.4" lengthAdjust="spacingAndGlyphs">III.</text>
<text x="313.40" y="305.40" font-size="18.5" text-anchor="start" fill="#111" font-family='"Liberation Serif", serif' textLength="13.2" lengthAdjust="spacingAndGlyphs">II.</text>
<text x="380.00" y="201.60" font-size="18.5" text-anchor="start" fill="#111" font-family='"Liberation Serif", serif' textLength="8.4" lengthAdjust="spacingAndGlyphs">I.</text>
<text x="446.00" y="257.20" font-size="18.5" text-anchor="start" fill="#111" font-family='"Liberation Serif", serif' textLength="8.4" lengthAdjust="spacingAndGlyphs">I.</text>
<text x="509.00" y="311.30" font-size="18.5" text-anchor="start" fill="#111" font-family='"Liberation Serif", serif' textLength="8.4" lengthAdjust="spacingAndGlyphs">I.</text>
<rect x="241.0" y="50.1" width="65.0" height="314.0" fill="none" stroke="rgba(250,170,105,0.36)" stroke-width="4.4"/>
<text transform="translate(260.70,356.20) scale(1,1.05)" x="0" y="0" font-size="20" text-anchor="start" fill="#111" font-family='"Liberation Sans", sans-serif' >&lt;0.5°C</text>
<text transform="translate(334.00,356.20) scale(1,1.05)" x="0" y="0" font-size="20" text-anchor="start" fill="#111" font-family='"Liberation Sans", sans-serif' >&lt;0.5°C</text>
<line x1="300.40" y1="361.80" x2="312.40" y2="361.80" stroke="#000" stroke-width="2.2" />
<line x1="306.40" y1="361.80" x2="306.40" y2="371.00" stroke="#000" stroke-width="1.2" />
<polygon points="303.80,368 309.00,368 306.40,374" fill="#000"/>
<line x1="328.00" y1="361.80" x2="340.00" y2="361.80" stroke="#000" stroke-width="2.2" />
<line x1="334.00" y1="361.80" x2="334.00" y2="371.00" stroke="#000" stroke-width="1.2" />
<polygon points="331.40,368 336.60,368 334.00,374" fill="#000"/>
<text transform="translate(307.58,388.20) scale(1,1.06)" x="0" y="0" font-size="19.5" text-anchor="middle" fill="#111" font-family='"Liberation Sans", sans-serif' >0.5</text>
<text transform="translate(373.07,388.20) scale(1,1.06)" x="0" y="0" font-size="19.5" text-anchor="middle" fill="#111" font-family='"Liberation Sans", sans-serif' >1.0</text>
<text transform="translate(438.55,388.20) scale(1,1.06)" x="0" y="0" font-size="19.5" text-anchor="middle" fill="#111" font-family='"Liberation Sans", sans-serif' >1.5</text>
<text transform="translate(504.03,388.20) scale(1,1.06)" x="0" y="0" font-size="19.5" text-anchor="middle" fill="#111" font-family='"Liberation Sans", sans-serif' >2.0</text>
<text transform="translate(569.52,388.20) scale(1,1.06)" x="0" y="0" font-size="19.5" text-anchor="middle" fill="#111" font-family='"Liberation Sans", sans-serif' >2.5</text>
<text transform="translate(635.00,388.20) scale(1,1.06)" x="0" y="0" font-size="19.5" text-anchor="middle" fill="#111" font-family='"Liberation Sans", sans-serif' >3.0</text>
<text x="459.10" y="416.00" font-size="22.7" text-anchor="middle" fill="#111" font-family='"Liberation Sans", sans-serif' >Concentration, <tspan font-style="italic">C</tspan> (m)</text>
<line x1="240.40" y1="403.00" x2="240.40" y2="380.00" stroke="#8a8a8a" stroke-width="2.2" />
<polygon points="235.9,384 245.1,384 240.4,374.4" fill="#8a8a8a"/>
<text x="241.60" y="422.20" font-size="17.6" text-anchor="start" fill="#8c8c8c" font-family='"Liberation Sans", sans-serif' >FEP result</text>
<text x="241.60" y="439.20" font-size="17.6" text-anchor="start" fill="#8c8c8c" font-family='"Liberation Sans", sans-serif' >see inset</text>
<path d="M269.8,42 C258,18 232,10 212,11.5 C195,13 182,20 172,28" fill="none" stroke="#fdb57e" stroke-width="2.6"/>
<polygon points="161.7,42.4 167.6,20.1 182.2,31.5" fill="#fdb57e"/>
<text transform="translate(274.70,16.30) scale(1,1.04)" x="0" y="0" font-size="22.5" text-anchor="start" fill="#fdbb8a" font-family='"Liberation Sans", sans-serif' >See log plot</text>
<text transform="translate(274.70,34.60) scale(1,1.04)" x="0" y="0" font-size="22.5" text-anchor="start" fill="#fdbb8a" font-family='"Liberation Sans", sans-serif' >on the left</text>
<rect x="468.8" y="64.5" width="154.00" height="153.40" fill="#fff" stroke="#3a3a3a" stroke-width="0.9"/>
<line x1="468.80" y1="217.90" x2="471.80" y2="217.90" stroke="#262626" stroke-width="0.8" />
<line x1="468.80" y1="211.76" x2="470.80" y2="211.76" stroke="#262626" stroke-width="0.8" />
<line x1="468.80" y1="205.63" x2="470.80" y2="205.63" stroke="#262626" stroke-width="0.8" />
<line x1="468.80" y1="199.49" x2="470.80" y2="199.49" stroke="#262626" stroke-width="0.8" />
<line x1="468.80" y1="193.36" x2="470.80" y2="193.36" stroke="#262626" stroke-width="0.8" />
<line x1="468.80" y1="187.22" x2="471.80" y2="187.22" stroke="#262626" stroke-width="0.8" />
<line x1="468.80" y1="181.08" x2="470.80" y2="181.08" stroke="#262626" stroke-width="0.8" />
<line x1="468.80" y1="174.95" x2="470.80" y2="174.95" stroke="#262626" stroke-width="0.8" />
<line x1="468.80" y1="168.81" x2="470.80" y2="168.81" stroke="#262626" stroke-width="0.8" />
<line x1="468.80" y1="162.68" x2="470.80" y2="162.68" stroke="#262626" stroke-width="0.8" />
<line x1="468.80" y1="156.54" x2="471.80" y2="156.54" stroke="#262626" stroke-width="0.8" />
<line x1="468.80" y1="150.40" x2="470.80" y2="150.40" stroke="#262626" stroke-width="0.8" />
<line x1="468.80" y1="144.27" x2="470.80" y2="144.27" stroke="#262626" stroke-width="0.8" />
<line x1="468.80" y1="138.13" x2="470.80" y2="138.13" stroke="#262626" stroke-width="0.8" />
<line x1="468.80" y1="132.00" x2="470.80" y2="132.00" stroke="#262626" stroke-width="0.8" />
<line x1="468.80" y1="125.86" x2="471.80" y2="125.86" stroke="#262626" stroke-width="0.8" />
<line x1="468.80" y1="119.72" x2="470.80" y2="119.72" stroke="#262626" stroke-width="0.8" />
<line x1="468.80" y1="113.59" x2="470.80" y2="113.59" stroke="#262626" stroke-width="0.8" />
<line x1="468.80" y1="107.45" x2="470.80" y2="107.45" stroke="#262626" stroke-width="0.8" />
<line x1="468.80" y1="101.32" x2="470.80" y2="101.32" stroke="#262626" stroke-width="0.8" />
<line x1="468.80" y1="95.18" x2="471.80" y2="95.18" stroke="#262626" stroke-width="0.8" />
<line x1="468.80" y1="89.04" x2="470.80" y2="89.04" stroke="#262626" stroke-width="0.8" />
<line x1="468.80" y1="82.91" x2="470.80" y2="82.91" stroke="#262626" stroke-width="0.8" />
<line x1="468.80" y1="76.77" x2="470.80" y2="76.77" stroke="#262626" stroke-width="0.8" />
<line x1="468.80" y1="70.64" x2="470.80" y2="70.64" stroke="#262626" stroke-width="0.8" />
<line x1="468.80" y1="64.50" x2="471.80" y2="64.50" stroke="#262626" stroke-width="0.8" />
<line x1="468.80" y1="217.90" x2="468.80" y2="214.90" stroke="#262626" stroke-width="0.8" />
<line x1="479.07" y1="217.90" x2="479.07" y2="215.90" stroke="#262626" stroke-width="0.8" />
<line x1="489.33" y1="217.90" x2="489.33" y2="215.90" stroke="#262626" stroke-width="0.8" />
<line x1="499.60" y1="217.90" x2="499.60" y2="215.90" stroke="#262626" stroke-width="0.8" />
<line x1="509.87" y1="217.90" x2="509.87" y2="215.90" stroke="#262626" stroke-width="0.8" />
<line x1="520.13" y1="217.90" x2="520.13" y2="214.90" stroke="#262626" stroke-width="0.8" />
<line x1="530.40" y1="217.90" x2="530.40" y2="215.90" stroke="#262626" stroke-width="0.8" />
<line x1="540.67" y1="217.90" x2="540.67" y2="215.90" stroke="#262626" stroke-width="0.8" />
<line x1="550.93" y1="217.90" x2="550.93" y2="215.90" stroke="#262626" stroke-width="0.8" />
<line x1="561.20" y1="217.90" x2="561.20" y2="215.90" stroke="#262626" stroke-width="0.8" />
<line x1="571.47" y1="217.90" x2="571.47" y2="214.90" stroke="#262626" stroke-width="0.8" />
<line x1="581.73" y1="217.90" x2="581.73" y2="215.90" stroke="#262626" stroke-width="0.8" />
<line x1="592.00" y1="217.90" x2="592.00" y2="215.90" stroke="#262626" stroke-width="0.8" />
<line x1="602.27" y1="217.90" x2="602.27" y2="215.90" stroke="#262626" stroke-width="0.8" />
<line x1="612.53" y1="217.90" x2="612.53" y2="215.90" stroke="#262626" stroke-width="0.8" />
<line x1="622.80" y1="217.90" x2="622.80" y2="214.90" stroke="#262626" stroke-width="0.8" />
<polyline points="486.00,203.60 516.30,187.20 521.60,183.50 526.40,178.80 532.00,174.50 536.80,172.00 542.10,165.50 547.40,162.00 568.10,142.20 588.40,122.20 604.00,105.30 619.20,86.50" fill="none" stroke="#fdbc8a" stroke-width="0.9" stroke-linejoin="round" />
<polyline points="486.00,192.50 516.30,187.20 521.60,182.40 526.40,182.40 532.00,182.40 536.80,180.00 542.10,178.30 547.40,177.60 568.10,167.20 588.40,157.60 604.00,149.40 619.20,142.20" fill="none" stroke="#08b2a0" stroke-width="0.9" stroke-linejoin="round" />
<polyline points="486.00,183.60 516.30,187.70 521.60,189.00 526.40,187.70 532.00,188.40 536.80,188.40 542.10,188.00 547.40,186.50 568.10,185.30 588.40,180.70 604.00,177.60 619.20,172.30" fill="none" stroke="#feb4c4" stroke-width="0.9" stroke-linejoin="round" />
<path d="M486.00,180.40V186.80M483.90,180.40H488.10M483.90,186.80H488.10" stroke="#feb4c4" stroke-width="1.2" fill="none"/>
<polygon points="486.00,180.54 489.00,185.64 483.00,185.64" fill="#feb4c4"/>
<path d="M516.30,184.50V190.90M514.20,184.50H518.40M514.20,190.90H518.40" stroke="#feb4c4" stroke-width="1.2" fill="none"/>
<polygon points="516.30,184.64 519.30,189.74 513.30,189.74" fill="#feb4c4"/>
<path d="M521.60,185.80V192.20M519.50,185.80H523.70M519.50,192.20H523.70" stroke="#feb4c4" stroke-width="1.2" fill="none"/>
<polygon points="521.60,185.94 524.60,191.04 518.60,191.04" fill="#feb4c4"/>
<path d="M526.40,184.50V190.90M524.30,184.50H528.50M524.30,190.90H528.50" stroke="#feb4c4" stroke-width="1.2" fill="none"/>
<polygon points="526.40,184.64 529.40,189.74 523.40,189.74" fill="#feb4c4"/>
<path d="M532.00,185.20V191.60M529.90,185.20H534.10M529.90,191.60H534.10" stroke="#feb4c4" stroke-width="1.2" fill="none"/>
<polygon points="532.00,185.34 535.00,190.44 529.00,190.44" fill="#feb4c4"/>
<path d="M536.80,185.20V191.60M534.70,185.20H538.90M534.70,191.60H538.90" stroke="#feb4c4" stroke-width="1.2" fill="none"/>
<polygon points="536.80,185.34 539.80,190.44 533.80,190.44" fill="#feb4c4"/>
<path d="M542.10,184.80V191.20M540.00,184.80H544.20M540.00,191.20H544.20" stroke="#feb4c4" stroke-width="1.2" fill="none"/>
<polygon points="542.10,184.94 545.10,190.04 539.10,190.04" fill="#feb4c4"/>
<path d="M547.40,183.30V189.70M545.30,183.30H549.50M545.30,189.70H549.50" stroke="#feb4c4" stroke-width="1.2" fill="none"/>
<polygon points="547.40,183.44 550.40,188.54 544.40,188.54" fill="#feb4c4"/>
<path d="M568.10,182.10V188.50M566.00,182.10H570.20M566.00,188.50H570.20" stroke="#feb4c4" stroke-width="1.2" fill="none"/>
<polygon points="568.10,182.24 571.10,187.34 565.10,187.34" fill="#feb4c4"/>
<path d="M588.40,177.50V183.90M586.30,177.50H590.50M586.30,183.90H590.50" stroke="#feb4c4" stroke-width="1.2" fill="none"/>
<polygon points="588.40,177.64 591.40,182.74 585.40,182.74" fill="#feb4c4"/>
<path d="M604.00,174.40V180.80M601.90,174.40H606.10M601.90,180.80H606.10" stroke="#feb4c4" stroke-width="1.2" fill="none"/>
<polygon points="604.00,174.54 607.00,179.64 601.00,179.64" fill="#feb4c4"/>
<path d="M619.20,169.10V175.50M617.10,169.10H621.30M617.10,175.50H621.30" stroke="#feb4c4" stroke-width="1.2" fill="none"/>
<polygon points="619.20,169.24 622.20,174.34 616.20,174.34" fill="#feb4c4"/>
<path d="M486.00,189.30V195.70M483.90,189.30H488.10M483.90,195.70H488.10" stroke="#08b2a0" stroke-width="1.2" fill="none"/>
<rect x="483.80" y="190.30" width="4.4" height="4.4" fill="#08b2a0"/>
<path d="M516.30,184.00V190.40M514.20,184.00H518.40M514.20,190.40H518.40" stroke="#08b2a0" stroke-width="1.2" fill="none"/>
<rect x="514.10" y="185.00" width="4.4" height="4.4" fill="#08b2a0"/>
<path d="M521.60,179.20V185.60M519.50,179.20H523.70M519.50,185.60H523.70" stroke="#08b2a0" stroke-width="1.2" fill="none"/>
<rect x="519.40" y="180.20" width="4.4" height="4.4" fill="#08b2a0"/>
<path d="M526.40,179.20V185.60M524.30,179.20H528.50M524.30,185.60H528.50" stroke="#08b2a0" stroke-width="1.2" fill="none"/>
<rect x="524.20" y="180.20" width="4.4" height="4.4" fill="#08b2a0"/>
<path d="M532.00,179.20V185.60M529.90,179.20H534.10M529.90,185.60H534.10" stroke="#08b2a0" stroke-width="1.2" fill="none"/>
<rect x="529.80" y="180.20" width="4.4" height="4.4" fill="#08b2a0"/>
<path d="M536.80,176.80V183.20M534.70,176.80H538.90M534.70,183.20H538.90" stroke="#08b2a0" stroke-width="1.2" fill="none"/>
<rect x="534.60" y="177.80" width="4.4" height="4.4" fill="#08b2a0"/>
<path d="M542.10,175.10V181.50M540.00,175.10H544.20M540.00,181.50H544.20" stroke="#08b2a0" stroke-width="1.2" fill="none"/>
<rect x="539.90" y="176.10" width="4.4" height="4.4" fill="#08b2a0"/>
<path d="M547.40,174.40V180.80M545.30,174.40H549.50M545.30,180.80H549.50" stroke="#08b2a0" stroke-width="1.2" fill="none"/>
<rect x="545.20" y="175.40" width="4.4" height="4.4" fill="#08b2a0"/>
<path d="M568.10,164.00V170.40M566.00,164.00H570.20M566.00,170.40H570.20" stroke="#08b2a0" stroke-width="1.2" fill="none"/>
<rect x="565.90" y="165.00" width="4.4" height="4.4" fill="#08b2a0"/>
<path d="M588.40,154.40V160.80M586.30,154.40H590.50M586.30,160.80H590.50" stroke="#08b2a0" stroke-width="1.2" fill="none"/>
<rect x="586.20" y="155.40" width="4.4" height="4.4" fill="#08b2a0"/>
<path d="M604.00,146.20V152.60M601.90,146.20H606.10M601.90,152.60H606.10" stroke="#08b2a0" stroke-width="1.2" fill="none"/>
<rect x="601.80" y="147.20" width="4.4" height="4.4" fill="#08b2a0"/>
<path d="M619.20,139.00V145.40M617.10,139.00H621.30M617.10,145.40H621.30" stroke="#08b2a0" stroke-width="1.2" fill="none"/>
<rect x="617.00" y="140.00" width="4.4" height="4.4" fill="#08b2a0"/>
<path d="M486.00,200.40V206.80M483.90,200.40H488.10M483.90,206.80H488.10" stroke="#fdbc8a" stroke-width="1.2" fill="none"/>
<circle cx="486.00" cy="203.60" r="2.6" fill="#fdbc8a"/>
<path d="M516.30,184.00V190.40M514.20,184.00H518.40M514.20,190.40H518.40" stroke="#fdbc8a" stroke-width="1.2" fill="none"/>
<circle cx="516.30" cy="187.20" r="2.6" fill="#fdbc8a"/>
<path d="M521.60,180.30V186.70M519.50,180.30H523.70M519.50,186.70H523.70" stroke="#fdbc8a" stroke-width="1.2" fill="none"/>
<circle cx="521.60" cy="183.50" r="2.6" fill="#fdbc8a"/>
<path d="M526.40,175.60V182.00M524.30,175.60H528.50M524.30,182.00H528.50" stroke="#fdbc8a" stroke-width="1.2" fill="none"/>
<circle cx="526.40" cy="178.80" r="2.6" fill="#fdbc8a"/>
<path d="M532.00,171.30V177.70M529.90,171.30H534.10M529.90,177.70H534.10" stroke="#fdbc8a" stroke-width="1.2" fill="none"/>
<circle cx="532.00" cy="174.50" r="2.6" fill="#fdbc8a"/>
<path d="M536.80,168.80V175.20M534.70,168.80H538.90M534.70,175.20H538.90" stroke="#fdbc8a" stroke-width="1.2" fill="none"/>
<circle cx="536.80" cy="172.00" r="2.6" fill="#fdbc8a"/>
<path d="M542.10,162.30V168.70M540.00,162.30H544.20M540.00,168.70H544.20" stroke="#fdbc8a" stroke-width="1.2" fill="none"/>
<circle cx="542.10" cy="165.50" r="2.6" fill="#fdbc8a"/>
<path d="M547.40,158.80V165.20M545.30,158.80H549.50M545.30,165.20H549.50" stroke="#fdbc8a" stroke-width="1.2" fill="none"/>
<circle cx="547.40" cy="162.00" r="2.6" fill="#fdbc8a"/>
<path d="M568.10,139.00V145.40M566.00,139.00H570.20M566.00,145.40H570.20" stroke="#fdbc8a" stroke-width="1.2" fill="none"/>
<circle cx="568.10" cy="142.20" r="2.6" fill="#fdbc8a"/>
<path d="M588.40,119.00V125.40M586.30,119.00H590.50M586.30,125.40H590.50" stroke="#fdbc8a" stroke-width="1.2" fill="none"/>
<circle cx="588.40" cy="122.20" r="2.6" fill="#fdbc8a"/>
<path d="M604.00,102.10V108.50M601.90,102.10H606.10M601.90,108.50H606.10" stroke="#fdbc8a" stroke-width="1.2" fill="none"/>
<circle cx="604.00" cy="105.30" r="2.6" fill="#fdbc8a"/>
<path d="M619.20,83.30V89.70M617.10,83.30H621.30M617.10,89.70H621.30" stroke="#fdbc8a" stroke-width="1.2" fill="none"/>
<circle cx="619.20" cy="86.50" r="2.6" fill="#fdbc8a"/>
<text transform="translate(458.00,224.10) scale(1,1.06)" x="0" y="0" font-size="17.5" text-anchor="middle" fill="#111" font-family='"Liberation Sans", sans-serif' >-5</text>
<text transform="translate(458.00,193.42) scale(1,1.06)" x="0" y="0" font-size="17.5" text-anchor="middle" fill="#111" font-family='"Liberation Sans", sans-serif' >0</text>
<text transform="translate(458.00,162.74) scale(1,1.06)" x="0" y="0" font-size="17.5" text-anchor="middle" fill="#111" font-family='"Liberation Sans", sans-serif' >5</text>
<text transform="translate(458.00,132.06) scale(1,1.06)" x="0" y="0" font-size="17.5" text-anchor="middle" fill="#111" font-family='"Liberation Sans", sans-serif' >10</text>
<text transform="translate(458.00,101.38) scale(1,1.06)" x="0" y="0" font-size="17.5" text-anchor="middle" fill="#111" font-family='"Liberation Sans", sans-serif' >15</text>
<text transform="translate(458.00,70.70) scale(1,1.06)" x="0" y="0" font-size="17.5" text-anchor="middle" fill="#111" font-family='"Liberation Sans", sans-serif' >20</text>
<text transform="translate(469.30,237.50) scale(1,1.06)" x="0" y="0" font-size="17.5" text-anchor="middle" fill="#111" font-family='"Liberation Sans", sans-serif' >-50</text>
<text transform="translate(520.63,237.50) scale(1,1.06)" x="0" y="0" font-size="17.5" text-anchor="middle" fill="#111" font-family='"Liberation Sans", sans-serif' >0</text>
<text transform="translate(571.97,237.50) scale(1,1.06)" x="0" y="0" font-size="17.5" text-anchor="middle" fill="#111" font-family='"Liberation Sans", sans-serif' >50</text>
<text transform="translate(614.40,237.50) scale(1,1.06)" x="0" y="0" font-size="17.5" text-anchor="middle" fill="#111" font-family='"Liberation Sans", sans-serif' >100</text>
<text x="549.20" y="250.30" font-size="15" text-anchor="middle" fill="#111" font-family='"Liberation Sans", sans-serif' ><tspan font-style="italic">T</tspan> (°C)</text>
<text transform="translate(443.8,140.2) rotate(-90)" textLength="105.8" lengthAdjust="spacingAndGlyphs" font-size="17" text-anchor="middle" font-family='"Liberation Sans", sans-serif' fill="#111">ΔΔG (kJ mol<tspan font-size="11.5" dy="-6">-1</tspan><tspan dy="6">)</tspan></text>
<rect x="474.3" y="86.2" width="57.2" height="60.2" fill="#fff" stroke="#555" stroke-width="1"/>
<path d="M484.80,90.00V104.00M481.80,90.00H487.80M481.80,104.00H487.80" stroke="#fdbc8a" stroke-width="1.3" fill="none"/>
<polygon points="484.80,93.61 489.10,100.92 480.50,100.92" fill="#fdbc8a"/>
<path d="M484.80,109.00V123.50M481.80,109.00H487.80M481.80,123.50H487.80" stroke="#08b2a0" stroke-width="1.3" fill="none"/>
<circle cx="484.80" cy="116.40" r="3.7" fill="#08b2a0"/>
<path d="M484.80,128.50V142.00M481.80,128.50H487.80M481.80,142.00H487.80" stroke="#feb4c4" stroke-width="1.3" fill="none"/>
<rect x="482.10" y="132.70" width="5.4" height="5.4" fill="#feb4c4"/>
<text x="503.40" y="103.30" font-size="16.5" text-anchor="start" fill="#111" font-family='"Liberation Sans", sans-serif' >F<tspan font-size="12" dy="-6.5">−</tspan></text>
<text x="503.40" y="122.70" font-size="16.5" text-anchor="start" fill="#111" font-family='"Liberation Sans", sans-serif' >Cl<tspan font-size="12" dy="-6.5">−</tspan></text>
<text x="503.40" y="140.50" font-size="16.5" text-anchor="start" fill="#111" font-family='"Liberation Sans", sans-serif' >I<tspan font-size="12" dy="-6.5">−</tspan></text>
<text x="474.50" y="79.90" font-size="16.2" text-anchor="start" fill="#111" font-family='"Liberation Sans", sans-serif' >Single-ion FEP</text>
<line x1="73.60" y1="688.65" x2="316.20" y2="688.65" stroke="#e3e3e3" stroke-width="1" />
<line x1="73.60" y1="612.70" x2="316.20" y2="612.70" stroke="#e3e3e3" stroke-width="1" />
<line x1="73.60" y1="536.75" x2="316.20" y2="536.75" stroke="#e3e3e3" stroke-width="1" />
<line x1="154.47" y1="460.80" x2="154.47" y2="764.60" stroke="#e3e3e3" stroke-width="1" />
<line x1="235.33" y1="460.80" x2="235.33" y2="764.60" stroke="#e3e3e3" stroke-width="1" />
<rect x="73.6" y="460.8" width="242.60" height="303.80" fill="none" stroke="#262626" stroke-width="1"/>
<line x1="73.60" y1="764.60" x2="77.60" y2="764.60" stroke="#262626" stroke-width="0.9" />
<line x1="316.20" y1="764.60" x2="312.20" y2="764.60" stroke="#262626" stroke-width="0.9" />
<line x1="73.60" y1="749.41" x2="76.60" y2="749.41" stroke="#262626" stroke-width="0.9" />
<line x1="316.20" y1="749.41" x2="313.20" y2="749.41" stroke="#262626" stroke-width="0.9" />
<line x1="73.60" y1="734.22" x2="76.60" y2="734.22" stroke="#262626" stroke-width="0.9" />
<line x1="316.20" y1="734.22" x2="313.20" y2="734.22" stroke="#262626" stroke-width="0.9" />
<line x1="73.60" y1="719.03" x2="76.60" y2="719.03" stroke="#262626" stroke-width="0.9" />
<line x1="316.20" y1="719.03" x2="313.20" y2="719.03" stroke="#262626" stroke-width="0.9" />
<line x1="73.60" y1="703.84" x2="76.60" y2="703.84" stroke="#262626" stroke-width="0.9" />
<line x1="316.20" y1="703.84" x2="313.20" y2="703.84" stroke="#262626" stroke-width="0.9" />
<line x1="73.60" y1="688.65" x2="77.60" y2="688.65" stroke="#262626" stroke-width="0.9" />
<line x1="316.20" y1="688.65" x2="312.20" y2="688.65" stroke="#262626" stroke-width="0.9" />
<line x1="73.60" y1="673.46" x2="76.60" y2="673.46" stroke="#262626" stroke-width="0.9" />
<line x1="316.20" y1="673.46" x2="313.20" y2="673.46" stroke="#262626" stroke-width="0.9" />
<line x1="73.60" y1="658.27" x2="76.60" y2="658.27" stroke="#262626" stroke-width="0.9" />
<line x1="316.20" y1="658.27" x2="313.20" y2="658.27" stroke="#262626" stroke-width="0.9" />
<line x1="73.60" y1="643.08" x2="76.60" y2="643.08" stroke="#262626" stroke-width="0.9" />
<line x1="316.20" y1="643.08" x2="313.20" y2="643.08" stroke="#262626" stroke-width="0.9" />
<line x1="73.60" y1="627.89" x2="76.60" y2="627.89" stroke="#262626" stroke-width="0.9" />
<line x1="316.20" y1="627.89" x2="313.20" y2="627.89" stroke="#262626" stroke-width="0.9" />
<line x1="73.60" y1="612.70" x2="77.60" y2="612.70" stroke="#262626" stroke-width="0.9" />
<line x1="316.20" y1="612.70" x2="312.20" y2="612.70" stroke="#262626" stroke-width="0.9" />
<line x1="73.60" y1="597.51" x2="76.60" y2="597.51" stroke="#262626" stroke-width="0.9" />
<line x1="316.20" y1="597.51" x2="313.20" y2="597.51" stroke="#262626" stroke-width="0.9" />
<line x1="73.60" y1="582.32" x2="76.60" y2="582.32" stroke="#262626" stroke-width="0.9" />
<line x1="316.20" y1="582.32" x2="313.20" y2="582.32" stroke="#262626" stroke-width="0.9" />
<line x1="73.60" y1="567.13" x2="76.60" y2="567.13" stroke="#262626" stroke-width="0.9" />
<line x1="316.20" y1="567.13" x2="313.20" y2="567.13" stroke="#262626" stroke-width="0.9" />
<line x1="73.60" y1="551.94" x2="76.60" y2="551.94" stroke="#262626" stroke-width="0.9" />
<line x1="316.20" y1="551.94" x2="313.20" y2="551.94" stroke="#262626" stroke-width="0.9" />
<line x1="73.60" y1="536.75" x2="77.60" y2="536.75" stroke="#262626" stroke-width="0.9" />
<line x1="316.20" y1="536.75" x2="312.20" y2="536.75" stroke="#262626" stroke-width="0.9" />
<line x1="73.60" y1="521.56" x2="76.60" y2="521.56" stroke="#262626" stroke-width="0.9" />
<line x1="316.20" y1="521.56" x2="313.20" y2="521.56" stroke="#262626" stroke-width="0.9" />
<line x1="73.60" y1="506.37" x2="76.60" y2="506.37" stroke="#262626" stroke-width="0.9" />
<line x1="316.20" y1="506.37" x2="313.20" y2="506.37" stroke="#262626" stroke-width="0.9" />
<line x1="73.60" y1="491.18" x2="76.60" y2="491.18" stroke="#262626" stroke-width="0.9" />
<line x1="316.20" y1="491.18" x2="313.20" y2="491.18" stroke="#262626" stroke-width="0.9" />
<line x1="73.60" y1="475.99" x2="76.60" y2="475.99" stroke="#262626" stroke-width="0.9" />
<line x1="316.20" y1="475.99" x2="313.20" y2="475.99" stroke="#262626" stroke-width="0.9" />
<line x1="73.60" y1="460.80" x2="77.60" y2="460.80" stroke="#262626" stroke-width="0.9" />
<line x1="316.20" y1="460.80" x2="312.20" y2="460.80" stroke="#262626" stroke-width="0.9" />
<line x1="73.60" y1="764.60" x2="73.60" y2="760.60" stroke="#262626" stroke-width="0.9" />
<line x1="73.60" y1="460.80" x2="73.60" y2="464.80" stroke="#262626" stroke-width="0.9" />
<line x1="89.77" y1="764.60" x2="89.77" y2="761.60" stroke="#262626" stroke-width="0.9" />
<line x1="89.77" y1="460.80" x2="89.77" y2="463.80" stroke="#262626" stroke-width="0.9" />
<line x1="105.95" y1="764.60" x2="105.95" y2="761.60" stroke="#262626" stroke-width="0.9" />
<line x1="105.95" y1="460.80" x2="105.95" y2="463.80" stroke="#262626" stroke-width="0.9" />
<line x1="122.12" y1="764.60" x2="122.12" y2="761.60" stroke="#262626" stroke-width="0.9" />
<line x1="122.12" y1="460.80" x2="122.12" y2="463.80" stroke="#262626" stroke-width="0.9" />
<line x1="138.29" y1="764.60" x2="138.29" y2="761.60" stroke="#262626" stroke-width="0.9" />
<line x1="138.29" y1="460.80" x2="138.29" y2="463.80" stroke="#262626" stroke-width="0.9" />
<line x1="154.47" y1="764.60" x2="154.47" y2="760.60" stroke="#262626" stroke-width="0.9" />
<line x1="154.47" y1="460.80" x2="154.47" y2="464.80" stroke="#262626" stroke-width="0.9" />
<line x1="170.64" y1="764.60" x2="170.64" y2="761.60" stroke="#262626" stroke-width="0.9" />
<line x1="170.64" y1="460.80" x2="170.64" y2="463.80" stroke="#262626" stroke-width="0.9" />
<line x1="186.81" y1="764.60" x2="186.81" y2="761.60" stroke="#262626" stroke-width="0.9" />
<line x1="186.81" y1="460.80" x2="186.81" y2="463.80" stroke="#262626" stroke-width="0.9" />
<line x1="202.99" y1="764.60" x2="202.99" y2="761.60" stroke="#262626" stroke-width="0.9" />
<line x1="202.99" y1="460.80" x2="202.99" y2="463.80" stroke="#262626" stroke-width="0.9" />
<line x1="219.16" y1="764.60" x2="219.16" y2="761.60" stroke="#262626" stroke-width="0.9" />
<line x1="219.16" y1="460.80" x2="219.16" y2="463.80" stroke="#262626" stroke-width="0.9" />
<line x1="235.33" y1="764.60" x2="235.33" y2="760.60" stroke="#262626" stroke-width="0.9" />
<line x1="235.33" y1="460.80" x2="235.33" y2="464.80" stroke="#262626" stroke-width="0.9" />
<line x1="251.51" y1="764.60" x2="251.51" y2="761.60" stroke="#262626" stroke-width="0.9" />
<line x1="251.51" y1="460.80" x2="251.51" y2="463.80" stroke="#262626" stroke-width="0.9" />
<line x1="267.68" y1="764.60" x2="267.68" y2="761.60" stroke="#262626" stroke-width="0.9" />
<line x1="267.68" y1="460.80" x2="267.68" y2="463.80" stroke="#262626" stroke-width="0.9" />
<line x1="283.85" y1="764.60" x2="283.85" y2="761.60" stroke="#262626" stroke-width="0.9" />
<line x1="283.85" y1="460.80" x2="283.85" y2="463.80" stroke="#262626" stroke-width="0.9" />
<line x1="300.03" y1="764.60" x2="300.03" y2="761.60" stroke="#262626" stroke-width="0.9" />
<line x1="300.03" y1="460.80" x2="300.03" y2="463.80" stroke="#262626" stroke-width="0.9" />
<line x1="316.20" y1="764.60" x2="316.20" y2="760.60" stroke="#262626" stroke-width="0.9" />
<line x1="316.20" y1="460.80" x2="316.20" y2="464.80" stroke="#262626" stroke-width="0.9" />
<path d="M100.4,722.0 Q205.8,654.9 311.1,515.8" fill="none" stroke="#3f58b0" stroke-width="1.1" stroke-dasharray="6,4"/>
<path d="M100.4,728.5 Q205.8,658.4 311.1,541.6" fill="none" stroke="#8fd0f2" stroke-width="1.1" stroke-dasharray="6,4"/>
<polyline points="100.40,666.60 148.90,689.00 156.80,692.60 164.70,694.30 173.10,699.00 181.40,699.20 189.60,700.40 197.60,701.70 229.60,707.90 262.20,711.90 286.30,711.40 310.70,711.90 315.60,712.00" fill="none" stroke="#87235f" stroke-width="1.3" stroke-linejoin="round" stroke-dasharray="1.3,2.6"/>
<polyline points="100.40,715.30 148.90,689.00 156.80,682.00 164.70,676.80 173.10,668.00 181.40,660.10 189.60,656.00 197.60,646.10 229.60,611.90 262.20,574.00 286.30,542.60" fill="none" stroke="#c879c8" stroke-width="1.3" stroke-linejoin="round" stroke-dasharray="1.3,2.6"/>
<polyline points="100.40,679.40 148.90,688.50 156.80,688.20 164.70,689.00 173.10,690.30 181.40,687.30 189.60,690.50 197.60,688.50 229.60,682.70 262.20,673.80 286.30,667.00 310.70,657.00" fill="none" stroke="#feb4c4" stroke-width="1.2" stroke-linejoin="round" />
<polyline points="100.40,723.20 148.90,689.00 156.80,675.90 164.70,673.30 173.10,661.20 181.40,649.30 189.60,646.00 197.60,643.00 229.60,614.00 262.20,592.00 286.30,574.50 310.70,557.60" fill="none" stroke="#22b39b" stroke-width="1.3" stroke-linejoin="round" />
<rect x="97.15" y="676.15" width="6.5" height="6.5" fill="#feb4c4"/>
<rect x="145.65" y="685.25" width="6.5" height="6.5" fill="#feb4c4"/>
<rect x="153.55" y="684.95" width="6.5" height="6.5" fill="#feb4c4"/>
<rect x="161.45" y="685.75" width="6.5" height="6.5" fill="#feb4c4"/>
<rect x="169.85" y="687.05" width="6.5" height="6.5" fill="#feb4c4"/>
<rect x="178.15" y="684.05" width="6.5" height="6.5" fill="#feb4c4"/>
<rect x="186.35" y="687.25" width="6.5" height="6.5" fill="#feb4c4"/>
<rect x="194.35" y="685.25" width="6.5" height="6.5" fill="#feb4c4"/>
<rect x="226.35" y="679.45" width="6.5" height="6.5" fill="#feb4c4"/>
<rect x="258.95" y="670.55" width="6.5" height="6.5" fill="#feb4c4"/>
<rect x="283.05" y="663.75" width="6.5" height="6.5" fill="#feb4c4"/>
<rect x="307.45" y="653.75" width="6.5" height="6.5" fill="#feb4c4"/>
<circle cx="100.40" cy="723.20" r="4.6" fill="#22b39b"/>
<circle cx="148.90" cy="689.00" r="4.6" fill="#22b39b"/>
<circle cx="156.80" cy="675.90" r="4.6" fill="#22b39b"/>
<circle cx="164.70" cy="673.30" r="4.6" fill="#22b39b"/>
<circle cx="173.10" cy="661.20" r="4.6" fill="#22b39b"/>
<circle cx="181.40" cy="649.30" r="4.6" fill="#22b39b"/>
<circle cx="189.60" cy="646.00" r="4.6" fill="#22b39b"/>
<circle cx="197.60" cy="643.00" r="4.6" fill="#22b39b"/>
<circle cx="229.60" cy="614.00" r="4.6" fill="#22b39b"/>
<circle cx="262.20" cy="592.00" r="4.6" fill="#22b39b"/>
<circle cx="286.30" cy="574.50" r="4.6" fill="#22b39b"/>
<circle cx="310.70" cy="557.60" r="4.6" fill="#22b39b"/>
<path d="M100.40,722.00V736.00M96.90,722.00H103.90M96.90,736.00H103.90" stroke="#8fd0f2" stroke-width="1.5" fill="none"/>
<polygon points="100.40,732.69 105.00,724.87 95.80,724.87" fill="#8fd0f2"/>
<path d="M148.90,686.60V700.60M145.40,686.60H152.40M145.40,700.60H152.40" stroke="#8fd0f2" stroke-width="1.5" fill="none"/>
<polygon points="148.90,697.29 153.50,689.47 144.30,689.47" fill="#8fd0f2"/>
<path d="M156.80,682.50V696.50M153.30,682.50H160.30M153.30,696.50H160.30" stroke="#8fd0f2" stroke-width="1.5" fill="none"/>
<polygon points="156.80,693.19 161.40,685.37 152.20,685.37" fill="#8fd0f2"/>
<path d="M164.70,679.00V693.00M161.20,679.00H168.20M161.20,693.00H168.20" stroke="#8fd0f2" stroke-width="1.5" fill="none"/>
<polygon points="164.70,689.69 169.30,681.87 160.10,681.87" fill="#8fd0f2"/>
<path d="M173.10,671.70V685.70M169.60,671.70H176.60M169.60,685.70H176.60" stroke="#8fd0f2" stroke-width="1.5" fill="none"/>
<polygon points="173.10,682.39 177.70,674.57 168.50,674.57" fill="#8fd0f2"/>
<path d="M181.40,662.00V676.00M177.90,662.00H184.90M177.90,676.00H184.90" stroke="#8fd0f2" stroke-width="1.5" fill="none"/>
<polygon points="181.40,672.69 186.00,664.87 176.80,664.87" fill="#8fd0f2"/>
<path d="M189.60,654.00V668.00M186.10,654.00H193.10M186.10,668.00H193.10" stroke="#8fd0f2" stroke-width="1.5" fill="none"/>
<polygon points="189.60,664.69 194.20,656.87 185.00,656.87" fill="#8fd0f2"/>
<path d="M197.60,646.00V660.00M194.10,646.00H201.10M194.10,660.00H201.10" stroke="#8fd0f2" stroke-width="1.5" fill="none"/>
<polygon points="197.60,656.69 202.20,648.87 193.00,648.87" fill="#8fd0f2"/>
<path d="M229.60,616.60V630.60M226.10,616.60H233.10M226.10,630.60H233.10" stroke="#8fd0f2" stroke-width="1.5" fill="none"/>
<polygon points="229.60,627.29 234.20,619.47 225.00,619.47" fill="#8fd0f2"/>
<path d="M310.70,539.00V553.00M307.20,539.00H314.20M307.20,553.00H314.20" stroke="#8fd0f2" stroke-width="1.5" fill="none"/>
<polygon points="310.70,549.69 315.30,541.87 306.10,541.87" fill="#8fd0f2"/>
<path d="M100.40,689.60V730.20M96.90,689.60H103.90M96.90,730.20H103.90" stroke="#3f58b0" stroke-width="1.5" fill="none"/>
<polygon points="100.40,702.60 105.00,709.60 100.40,716.60 95.80,709.60" fill="#3f58b0"/>
<path d="M148.90,680.00V697.50M145.40,680.00H152.40M145.40,697.50H152.40" stroke="#3f58b0" stroke-width="1.5" fill="none"/>
<polygon points="148.90,682.00 153.50,689.00 148.90,696.00 144.30,689.00" fill="#3f58b0"/>
<path d="M156.80,680.00V699.60M153.30,680.00H160.30M153.30,699.60H160.30" stroke="#3f58b0" stroke-width="1.5" fill="none"/>
<polygon points="156.80,681.20 161.40,688.20 156.80,695.20 152.20,688.20" fill="#3f58b0"/>
<path d="M164.70,667.70V696.00M161.20,667.70H168.20M161.20,696.00H168.20" stroke="#3f58b0" stroke-width="1.5" fill="none"/>
<polygon points="164.70,674.50 169.30,681.50 164.70,688.50 160.10,681.50" fill="#3f58b0"/>
<path d="M173.10,665.00V682.00M169.60,665.00H176.60M169.60,682.00H176.60" stroke="#3f58b0" stroke-width="1.5" fill="none"/>
<polygon points="173.10,666.30 177.70,673.30 173.10,680.30 168.50,673.30" fill="#3f58b0"/>
<path d="M181.40,657.00V672.00M177.90,657.00H184.90M177.90,672.00H184.90" stroke="#3f58b0" stroke-width="1.5" fill="none"/>
<polygon points="181.40,657.50 186.00,664.50 181.40,671.50 176.80,664.50" fill="#3f58b0"/>
<path d="M189.60,644.40V661.40M186.10,644.40H193.10M186.10,661.40H193.10" stroke="#3f58b0" stroke-width="1.5" fill="none"/>
<polygon points="189.60,646.10 194.20,653.10 189.60,660.10 185.00,653.10" fill="#3f58b0"/>
<path d="M197.60,646.00V657.00M194.10,646.00H201.10M194.10,657.00H201.10" stroke="#3f58b0" stroke-width="1.5" fill="none"/>
<polygon points="197.60,644.40 202.20,651.40 197.60,658.40 193.00,651.40" fill="#3f58b0"/>
<path d="M229.60,611.00V620.00M226.10,611.00H233.10M226.10,620.00H233.10" stroke="#3f58b0" stroke-width="1.5" fill="none"/>
<polygon points="229.60,608.40 234.20,615.40 229.60,622.40 225.00,615.40" fill="#3f58b0"/>
<path d="M262.20,528.90V559.40M258.70,528.90H265.70M258.70,559.40H265.70" stroke="#3f58b0" stroke-width="1.5" fill="none"/>
<polygon points="262.20,537.20 266.80,544.20 262.20,551.20 257.60,544.20" fill="#3f58b0"/>
<path d="M286.30,525.70V547.90M282.80,525.70H289.80M282.80,547.90H289.80" stroke="#3f58b0" stroke-width="1.5" fill="none"/>
<polygon points="286.30,529.60 290.90,536.60 286.30,543.60 281.70,536.60" fill="#3f58b0"/>
<path d="M310.70,530.00V548.20M307.20,530.00H314.20M307.20,548.20H314.20" stroke="#3f58b0" stroke-width="1.5" fill="none"/>
<polygon points="310.70,532.30 315.30,539.30 310.70,546.30 306.10,539.30" fill="#3f58b0"/>
<path d="M100.40,663.60V669.60M97.65,663.60H103.15M97.65,669.60H103.15" stroke="#87235f" stroke-width="1.3" fill="none"/>
<path d="M97.00,666.60L103.80,666.60M98.00,664.20L102.80,669.00M100.40,663.20L100.40,670.00M102.80,664.20L98.00,669.00" stroke="#87235f" stroke-width="1.8" fill="none"/>
<path d="M148.90,686.00V692.00M146.15,686.00H151.65M146.15,692.00H151.65" stroke="#87235f" stroke-width="1.3" fill="none"/>
<path d="M145.50,689.00L152.30,689.00M146.50,686.60L151.30,691.40M148.90,685.60L148.90,692.40M151.30,686.60L146.50,691.40" stroke="#87235f" stroke-width="1.8" fill="none"/>
<path d="M156.80,689.60V695.60M154.05,689.60H159.55M154.05,695.60H159.55" stroke="#87235f" stroke-width="1.3" fill="none"/>
<path d="M153.40,692.60L160.20,692.60M154.40,690.20L159.20,695.00M156.80,689.20L156.80,696.00M159.20,690.20L154.40,695.00" stroke="#87235f" stroke-width="1.8" fill="none"/>
<path d="M164.70,691.30V697.30M161.95,691.30H167.45M161.95,697.30H167.45" stroke="#87235f" stroke-width="1.3" fill="none"/>
<path d="M161.30,694.30L168.10,694.30M162.30,691.90L167.10,696.70M164.70,690.90L164.70,697.70M167.10,691.90L162.30,696.70" stroke="#87235f" stroke-width="1.8" fill="none"/>
<path d="M173.10,696.00V702.00M170.35,696.00H175.85M170.35,702.00H175.85" stroke="#87235f" stroke-width="1.3" fill="none"/>
<path d="M169.70,699.00L176.50,699.00M170.70,696.60L175.50,701.40M173.10,695.60L173.10,702.40M175.50,696.60L170.70,701.40" stroke="#87235f" stroke-width="1.8" fill="none"/>
<path d="M181.40,696.20V702.20M178.65,696.20H184.15M178.65,702.20H184.15" stroke="#87235f" stroke-width="1.3" fill="none"/>
<path d="M178.00,699.20L184.80,699.20M179.00,696.80L183.80,701.60M181.40,695.80L181.40,702.60M183.80,696.80L179.00,701.60" stroke="#87235f" stroke-width="1.8" fill="none"/>
<path d="M189.60,697.40V703.40M186.85,697.40H192.35M186.85,703.40H192.35" stroke="#87235f" stroke-width="1.3" fill="none"/>
<path d="M186.20,700.40L193.00,700.40M187.20,698.00L192.00,702.80M189.60,697.00L189.60,703.80M192.00,698.00L187.20,702.80" stroke="#87235f" stroke-width="1.8" fill="none"/>
<path d="M197.60,698.70V704.70M194.85,698.70H200.35M194.85,704.70H200.35" stroke="#87235f" stroke-width="1.3" fill="none"/>
<path d="M194.20,701.70L201.00,701.70M195.20,699.30L200.00,704.10M197.60,698.30L197.60,705.10M200.00,699.30L195.20,704.10" stroke="#87235f" stroke-width="1.8" fill="none"/>
<path d="M229.60,704.90V710.90M226.85,704.90H232.35M226.85,710.90H232.35" stroke="#87235f" stroke-width="1.3" fill="none"/>
<path d="M226.20,707.90L233.00,707.90M227.20,705.50L232.00,710.30M229.60,704.50L229.60,711.30M232.00,705.50L227.20,710.30" stroke="#87235f" stroke-width="1.8" fill="none"/>
<path d="M262.20,708.90V714.90M259.45,708.90H264.95M259.45,714.90H264.95" stroke="#87235f" stroke-width="1.3" fill="none"/>
<path d="M258.80,711.90L265.60,711.90M259.80,709.50L264.60,714.30M262.20,708.50L262.20,715.30M264.60,709.50L259.80,714.30" stroke="#87235f" stroke-width="1.8" fill="none"/>
<path d="M286.30,708.40V714.40M283.55,708.40H289.05M283.55,714.40H289.05" stroke="#87235f" stroke-width="1.3" fill="none"/>
<path d="M282.90,711.40L289.70,711.40M283.90,709.00L288.70,713.80M286.30,708.00L286.30,714.80M288.70,709.00L283.90,713.80" stroke="#87235f" stroke-width="1.8" fill="none"/>
<path d="M310.70,708.90V714.90M307.95,708.90H313.45M307.95,714.90H313.45" stroke="#87235f" stroke-width="1.3" fill="none"/>
<path d="M307.30,711.90L314.10,711.90M308.30,709.50L313.10,714.30M310.70,708.50L310.70,715.30M313.10,709.50L308.30,714.30" stroke="#87235f" stroke-width="1.8" fill="none"/>
<path d="M100.40,712.10V718.50M97.65,712.10H103.15M97.65,718.50H103.15" stroke="#f3128b" stroke-width="1.3" fill="none"/>
<path d="M97.70,712.60L103.10,718.00M97.70,718.00L103.10,712.60" stroke="#f3128b" stroke-width="2.0" fill="none"/>
<path d="M148.90,685.80V692.20M146.15,685.80H151.65M146.15,692.20H151.65" stroke="#f3128b" stroke-width="1.3" fill="none"/>
<path d="M146.20,686.30L151.60,691.70M146.20,691.70L151.60,686.30" stroke="#f3128b" stroke-width="2.0" fill="none"/>
<path d="M156.80,678.80V685.20M154.05,678.80H159.55M154.05,685.20H159.55" stroke="#f3128b" stroke-width="1.3" fill="none"/>
<path d="M154.10,679.30L159.50,684.70M154.10,684.70L159.50,679.30" stroke="#f3128b" stroke-width="2.0" fill="none"/>
<path d="M164.70,673.60V680.00M161.95,673.60H167.45M161.95,680.00H167.45" stroke="#f3128b" stroke-width="1.3" fill="none"/>
<path d="M162.00,674.10L167.40,679.50M162.00,679.50L167.40,674.10" stroke="#f3128b" stroke-width="2.0" fill="none"/>
<path d="M173.10,664.80V671.20M170.35,664.80H175.85M170.35,671.20H175.85" stroke="#f3128b" stroke-width="1.3" fill="none"/>
<path d="M170.40,665.30L175.80,670.70M170.40,670.70L175.80,665.30" stroke="#f3128b" stroke-width="2.0" fill="none"/>
<path d="M181.40,656.90V663.30M178.65,656.90H184.15M178.65,663.30H184.15" stroke="#f3128b" stroke-width="1.3" fill="none"/>
<path d="M178.70,657.40L184.10,662.80M178.70,662.80L184.10,657.40" stroke="#f3128b" stroke-width="2.0" fill="none"/>
<path d="M189.60,652.80V659.20M186.85,652.80H192.35M186.85,659.20H192.35" stroke="#f3128b" stroke-width="1.3" fill="none"/>
<path d="M186.90,653.30L192.30,658.70M186.90,658.70L192.30,653.30" stroke="#f3128b" stroke-width="2.0" fill="none"/>
<path d="M197.60,642.90V649.30M194.85,642.90H200.35M194.85,649.30H200.35" stroke="#f3128b" stroke-width="1.3" fill="none"/>
<path d="M194.90,643.40L200.30,648.80M194.90,648.80L200.30,643.40" stroke="#f3128b" stroke-width="2.0" fill="none"/>
<path d="M229.60,608.70V615.10M226.85,608.70H232.35M226.85,615.10H232.35" stroke="#f3128b" stroke-width="1.3" fill="none"/>
<path d="M226.90,609.20L232.30,614.60M226.90,614.60L232.30,609.20" stroke="#f3128b" stroke-width="2.0" fill="none"/>
<path d="M262.20,570.80V577.20M259.45,570.80H264.95M259.45,577.20H264.95" stroke="#f3128b" stroke-width="1.3" fill="none"/>
<path d="M259.50,571.30L264.90,576.70M259.50,576.70L264.90,571.30" stroke="#f3128b" stroke-width="2.0" fill="none"/>
<path d="M286.30,539.40V545.80M283.55,539.40H289.05M283.55,545.80H289.05" stroke="#f3128b" stroke-width="1.3" fill="none"/>
<path d="M283.60,539.90L289.00,545.30M283.60,545.30L289.00,539.90" stroke="#f3128b" stroke-width="2.0" fill="none"/>
<text transform="translate(67.50,772.40) scale(1,1.06)" x="0" y="0" font-size="19.5" text-anchor="end" fill="#111" font-family='"Liberation Sans", sans-serif' >−5</text>
<text transform="translate(67.50,696.45) scale(1,1.06)" x="0" y="0" font-size="19.5" text-anchor="end" fill="#111" font-family='"Liberation Sans", sans-serif' >0</text>
<text transform="translate(67.50,620.50) scale(1,1.06)" x="0" y="0" font-size="19.5" text-anchor="end" fill="#111" font-family='"Liberation Sans", sans-serif' >5</text>
<text transform="translate(67.50,544.55) scale(1,1.06)" x="0" y="0" font-size="19.5" text-anchor="end" fill="#111" font-family='"Liberation Sans", sans-serif' >10</text>
<text transform="translate(67.50,468.60) scale(1,1.06)" x="0" y="0" font-size="19.5" text-anchor="end" fill="#111" font-family='"Liberation Sans", sans-serif' >15</text>
<text transform="translate(71.50,785.30) scale(1,1.06)" x="0" y="0" font-size="19.5" text-anchor="middle" fill="#111" font-family='"Liberation Sans", sans-serif' >−50</text>
<text transform="translate(147.30,785.30) scale(1,1.06)" x="0" y="0" font-size="19.5" text-anchor="middle" fill="#111" font-family='"Liberation Sans", sans-serif' >0</text>
<text transform="translate(232.00,785.30) scale(1,1.06)" x="0" y="0" font-size="19.5" text-anchor="middle" fill="#111" font-family='"Liberation Sans", sans-serif' >50</text>
<text transform="translate(309.50,785.30) scale(1,1.06)" x="0" y="0" font-size="19.5" text-anchor="middle" fill="#111" font-family='"Liberation Sans", sans-serif' >100</text>
<text x="190.60" y="816.40" font-size="19.8" text-anchor="middle" fill="#111" font-family='"Liberation Sans", sans-serif' ><tspan font-style="italic">T</tspan> (°C)</text>
<text transform="translate(37.2,608.9) rotate(-90)" textLength="149" lengthAdjust="spacingAndGlyphs" font-size="21" text-anchor="middle" font-family='"Liberation Sans", sans-serif' fill="#111">ΔΔG(kJ mol<tspan font-size="13" dy="-7">−1</tspan><tspan dy="7">)</tspan></text>
<text x="-1.00" y="470.60" font-size="35" text-anchor="start" fill="#000" font-family='"Liberation Sans", sans-serif' font-weight="bold">b</text>
<rect x="82.1" y="472.1" width="104.8" height="128.4" fill="#fff" stroke="#555" stroke-width="1"/>
<line x1="87.00" y1="482.60" x2="111.50" y2="482.60" stroke="#22b39b" stroke-width="1.2" />
<circle cx="99.60" cy="482.60" r="3.6" fill="#22b39b"/>
<line x1="87.00" y1="504.50" x2="111.50" y2="504.50" stroke="#feb4c4" stroke-width="1.2" />
<rect x="96.85" y="501.75" width="5.5" height="5.5" fill="#feb4c4"/>
<line x1="87.00" y1="524.80" x2="111.50" y2="524.80" stroke="#3f58b0" stroke-width="1.2" stroke-dasharray="4,3"/>
<path d="M99.60,517.70V531.30M96.60,517.70H102.60M96.60,531.30H102.60" stroke="#3f58b0" stroke-width="1.5" fill="none"/>
<polygon points="99.60,518.80 103.60,524.80 99.60,530.80 95.60,524.80" fill="#3f58b0"/>
<line x1="85.00" y1="546.20" x2="111.50" y2="546.20" stroke="#8fd0f2" stroke-width="1.2" stroke-dasharray="4,3"/>
<path d="M99.60,540.00V553.20M96.60,540.00H102.60M96.60,553.20H102.60" stroke="#8fd0f2" stroke-width="1.5" fill="none"/>
<polygon points="99.60,550.28 103.60,543.48 95.60,543.48" fill="#8fd0f2"/>
<line x1="87.00" y1="566.40" x2="111.50" y2="566.40" stroke="#87235f" stroke-width="1.2" stroke-dasharray="1.2,2"/>
<path d="M99.60,560.20V573.40M96.60,560.20H102.60M96.60,573.40H102.60" stroke="#87235f" stroke-width="1.5" fill="none"/>
<path d="M96.10,566.40L103.10,566.40M97.13,563.93L102.07,568.87M99.60,562.90L99.60,569.90M102.07,563.93L97.13,568.87" stroke="#87235f" stroke-width="2" fill="none"/>
<line x1="87.00" y1="585.30" x2="111.50" y2="585.30" stroke="#c879c8" stroke-width="1.2" stroke-dasharray="1.2,2"/>
<path d="M99.60,578.60V591.80M96.60,578.60H102.60M96.60,591.80H102.60" stroke="#f3128b" stroke-width="1.5" fill="none"/>
<path d="M96.80,582.50L102.40,588.10M96.80,588.10L102.40,582.50" stroke="#f3128b" stroke-width="2" fill="none"/>
<text x="117.10" y="489.60" font-size="14" text-anchor="start" fill="#111" font-family='"Liberation Sans", sans-serif' >Na<tspan font-size="10" dy="-7">+</tspan></text>
<text x="117.10" y="510.30" font-size="14" text-anchor="start" fill="#111" font-family='"Liberation Sans", sans-serif' >I<tspan font-size="10" dy="-7">−</tspan></text>
<text x="117.10" y="530.40" font-size="14" text-anchor="start" fill="#111" font-family='"Liberation Sans", sans-serif' >NaI</text>
<text x="117.10" y="551.50" font-size="14" text-anchor="start" fill="#111" font-family='"Liberation Sans", sans-serif' >NaI paired</text>
<text x="117.10" y="571.60" font-size="14" text-anchor="start" fill="#111" font-family='"Liberation Sans", sans-serif' >Large I<tspan font-size="10" dy="-7">−</tspan></text>
<text x="117.10" y="591.80" font-size="14" text-anchor="start" fill="#111" font-family='"Liberation Sans", sans-serif' >Small I<tspan font-size="10" dy="-7">−</tspan></text>
<line x1="417.80" y1="725.69" x2="664.50" y2="725.69" stroke="#e3e3e3" stroke-width="1" />
<line x1="417.80" y1="681.57" x2="664.50" y2="681.57" stroke="#e3e3e3" stroke-width="1" />
<line x1="417.80" y1="637.46" x2="664.50" y2="637.46" stroke="#e3e3e3" stroke-width="1" />
<line x1="417.80" y1="593.34" x2="664.50" y2="593.34" stroke="#e3e3e3" stroke-width="1" />
<line x1="417.80" y1="549.23" x2="664.50" y2="549.23" stroke="#e3e3e3" stroke-width="1" />
<line x1="417.80" y1="505.11" x2="664.50" y2="505.11" stroke="#e3e3e3" stroke-width="1" />
<line x1="417.80" y1="461.00" x2="664.50" y2="461.00" stroke="#e3e3e3" stroke-width="1" />
<line x1="451.40" y1="461.00" x2="451.40" y2="769.80" stroke="#e3e3e3" stroke-width="1" />
<line x1="558.40" y1="461.00" x2="558.40" y2="769.80" stroke="#e3e3e3" stroke-width="1" />
<rect x="417.8" y="461.0" width="246.70" height="308.80" fill="none" stroke="#262626" stroke-width="1"/>
<line x1="417.80" y1="769.80" x2="421.80" y2="769.80" stroke="#262626" stroke-width="0.9" />
<line x1="664.50" y1="769.80" x2="660.50" y2="769.80" stroke="#262626" stroke-width="0.9" />
<line x1="417.80" y1="760.98" x2="420.80" y2="760.98" stroke="#262626" stroke-width="0.9" />
<line x1="664.50" y1="760.98" x2="661.50" y2="760.98" stroke="#262626" stroke-width="0.9" />
<line x1="417.80" y1="752.15" x2="420.80" y2="752.15" stroke="#262626" stroke-width="0.9" />
<line x1="664.50" y1="752.15" x2="661.50" y2="752.15" stroke="#262626" stroke-width="0.9" />
<line x1="417.80" y1="743.33" x2="420.80" y2="743.33" stroke="#262626" stroke-width="0.9" />
<line x1="664.50" y1="743.33" x2="661.50" y2="743.33" stroke="#262626" stroke-width="0.9" />
<line x1="417.80" y1="734.51" x2="420.80" y2="734.51" stroke="#262626" stroke-width="0.9" />
<line x1="664.50" y1="734.51" x2="661.50" y2="734.51" stroke="#262626" stroke-width="0.9" />
<line x1="417.80" y1="725.69" x2="421.80" y2="725.69" stroke="#262626" stroke-width="0.9" />
<line x1="664.50" y1="725.69" x2="660.50" y2="725.69" stroke="#262626" stroke-width="0.9" />
<line x1="417.80" y1="716.86" x2="420.80" y2="716.86" stroke="#262626" stroke-width="0.9" />
<line x1="664.50" y1="716.86" x2="661.50" y2="716.86" stroke="#262626" stroke-width="0.9" />
<line x1="417.80" y1="708.04" x2="420.80" y2="708.04" stroke="#262626" stroke-width="0.9" />
<line x1="664.50" y1="708.04" x2="661.50" y2="708.04" stroke="#262626" stroke-width="0.9" />
<line x1="417.80" y1="699.22" x2="420.80" y2="699.22" stroke="#262626" stroke-width="0.9" />
<line x1="664.50" y1="699.22" x2="661.50" y2="699.22" stroke="#262626" stroke-width="0.9" />
<line x1="417.80" y1="690.39" x2="420.80" y2="690.39" stroke="#262626" stroke-width="0.9" />
<line x1="664.50" y1="690.39" x2="661.50" y2="690.39" stroke="#262626" stroke-width="0.9" />
<line x1="417.80" y1="681.57" x2="421.80" y2="681.57" stroke="#262626" stroke-width="0.9" />
<line x1="664.50" y1="681.57" x2="660.50" y2="681.57" stroke="#262626" stroke-width="0.9" />
<line x1="417.80" y1="672.75" x2="420.80" y2="672.75" stroke="#262626" stroke-width="0.9" />
<line x1="664.50" y1="672.75" x2="661.50" y2="672.75" stroke="#262626" stroke-width="0.9" />
<line x1="417.80" y1="663.93" x2="420.80" y2="663.93" stroke="#262626" stroke-width="0.9" />
<line x1="664.50" y1="663.93" x2="661.50" y2="663.93" stroke="#262626" stroke-width="0.9" />
<line x1="417.80" y1="655.10" x2="420.80" y2="655.10" stroke="#262626" stroke-width="0.9" />
<line x1="664.50" y1="655.10" x2="661.50" y2="655.10" stroke="#262626" stroke-width="0.9" />
<line x1="417.80" y1="646.28" x2="420.80" y2="646.28" stroke="#262626" stroke-width="0.9" />
<line x1="664.50" y1="646.28" x2="661.50" y2="646.28" stroke="#262626" stroke-width="0.9" />
<line x1="417.80" y1="637.46" x2="421.80" y2="637.46" stroke="#262626" stroke-width="0.9" />
<line x1="664.50" y1="637.46" x2="660.50" y2="637.46" stroke="#262626" stroke-width="0.9" />
<line x1="417.80" y1="628.63" x2="420.80" y2="628.63" stroke="#262626" stroke-width="0.9" />
<line x1="664.50" y1="628.63" x2="661.50" y2="628.63" stroke="#262626" stroke-width="0.9" />
<line x1="417.80" y1="619.81" x2="420.80" y2="619.81" stroke="#262626" stroke-width="0.9" />
<line x1="664.50" y1="619.81" x2="661.50" y2="619.81" stroke="#262626" stroke-width="0.9" />
<line x1="417.80" y1="610.99" x2="420.80" y2="610.99" stroke="#262626" stroke-width="0.9" />
<line x1="664.50" y1="610.99" x2="661.50" y2="610.99" stroke="#262626" stroke-width="0.9" />
<line x1="417.80" y1="602.17" x2="420.80" y2="602.17" stroke="#262626" stroke-width="0.9" />
<line x1="664.50" y1="602.17" x2="661.50" y2="602.17" stroke="#262626" stroke-width="0.9" />
<line x1="417.80" y1="593.34" x2="421.80" y2="593.34" stroke="#262626" stroke-width="0.9" />
<line x1="664.50" y1="593.34" x2="660.50" y2="593.34" stroke="#262626" stroke-width="0.9" />
<line x1="417.80" y1="584.52" x2="420.80" y2="584.52" stroke="#262626" stroke-width="0.9" />
<line x1="664.50" y1="584.52" x2="661.50" y2="584.52" stroke="#262626" stroke-width="0.9" />
<line x1="417.80" y1="575.70" x2="420.80" y2="575.70" stroke="#262626" stroke-width="0.9" />
<line x1="664.50" y1="575.70" x2="661.50" y2="575.70" stroke="#262626" stroke-width="0.9" />
<line x1="417.80" y1="566.87" x2="420.80" y2="566.87" stroke="#262626" stroke-width="0.9" />
<line x1="664.50" y1="566.87" x2="661.50" y2="566.87" stroke="#262626" stroke-width="0.9" />
<line x1="417.80" y1="558.05" x2="420.80" y2="558.05" stroke="#262626" stroke-width="0.9" />
<line x1="664.50" y1="558.05" x2="661.50" y2="558.05" stroke="#262626" stroke-width="0.9" />
<line x1="417.80" y1="549.23" x2="421.80" y2="549.23" stroke="#262626" stroke-width="0.9" />
<line x1="664.50" y1="549.23" x2="660.50" y2="549.23" stroke="#262626" stroke-width="0.9" />
<line x1="417.80" y1="540.41" x2="420.80" y2="540.41" stroke="#262626" stroke-width="0.9" />
<line x1="664.50" y1="540.41" x2="661.50" y2="540.41" stroke="#262626" stroke-width="0.9" />
<line x1="417.80" y1="531.58" x2="420.80" y2="531.58" stroke="#262626" stroke-width="0.9" />
<line x1="664.50" y1="531.58" x2="661.50" y2="531.58" stroke="#262626" stroke-width="0.9" />
<line x1="417.80" y1="522.76" x2="420.80" y2="522.76" stroke="#262626" stroke-width="0.9" />
<line x1="664.50" y1="522.76" x2="661.50" y2="522.76" stroke="#262626" stroke-width="0.9" />
<line x1="417.80" y1="513.94" x2="420.80" y2="513.94" stroke="#262626" stroke-width="0.9" />
<line x1="664.50" y1="513.94" x2="661.50" y2="513.94" stroke="#262626" stroke-width="0.9" />
<line x1="417.80" y1="505.11" x2="421.80" y2="505.11" stroke="#262626" stroke-width="0.9" />
<line x1="664.50" y1="505.11" x2="660.50" y2="505.11" stroke="#262626" stroke-width="0.9" />
<line x1="417.80" y1="496.29" x2="420.80" y2="496.29" stroke="#262626" stroke-width="0.9" />
<line x1="664.50" y1="496.29" x2="661.50" y2="496.29" stroke="#262626" stroke-width="0.9" />
<line x1="417.80" y1="487.47" x2="420.80" y2="487.47" stroke="#262626" stroke-width="0.9" />
<line x1="664.50" y1="487.47" x2="661.50" y2="487.47" stroke="#262626" stroke-width="0.9" />
<line x1="417.80" y1="478.65" x2="420.80" y2="478.65" stroke="#262626" stroke-width="0.9" />
<line x1="664.50" y1="478.65" x2="661.50" y2="478.65" stroke="#262626" stroke-width="0.9" />
<line x1="417.80" y1="469.82" x2="420.80" y2="469.82" stroke="#262626" stroke-width="0.9" />
<line x1="664.50" y1="469.82" x2="661.50" y2="469.82" stroke="#262626" stroke-width="0.9" />
<line x1="417.80" y1="461.00" x2="421.80" y2="461.00" stroke="#262626" stroke-width="0.9" />
<line x1="664.50" y1="461.00" x2="660.50" y2="461.00" stroke="#262626" stroke-width="0.9" />
<line x1="430.00" y1="769.80" x2="430.00" y2="766.80" stroke="#262626" stroke-width="0.9" />
<line x1="430.00" y1="461.00" x2="430.00" y2="464.00" stroke="#262626" stroke-width="0.9" />
<line x1="451.40" y1="769.80" x2="451.40" y2="765.80" stroke="#262626" stroke-width="0.9" />
<line x1="451.40" y1="461.00" x2="451.40" y2="465.00" stroke="#262626" stroke-width="0.9" />
<line x1="472.80" y1="769.80" x2="472.80" y2="766.80" stroke="#262626" stroke-width="0.9" />
<line x1="472.80" y1="461.00" x2="472.80" y2="464.00" stroke="#262626" stroke-width="0.9" />
<line x1="494.20" y1="769.80" x2="494.20" y2="766.80" stroke="#262626" stroke-width="0.9" />
<line x1="494.20" y1="461.00" x2="494.20" y2="464.00" stroke="#262626" stroke-width="0.9" />
<line x1="515.60" y1="769.80" x2="515.60" y2="766.80" stroke="#262626" stroke-width="0.9" />
<line x1="515.60" y1="461.00" x2="515.60" y2="464.00" stroke="#262626" stroke-width="0.9" />
<line x1="537.00" y1="769.80" x2="537.00" y2="766.80" stroke="#262626" stroke-width="0.9" />
<line x1="537.00" y1="461.00" x2="537.00" y2="464.00" stroke="#262626" stroke-width="0.9" />
<line x1="558.40" y1="769.80" x2="558.40" y2="765.80" stroke="#262626" stroke-width="0.9" />
<line x1="558.40" y1="461.00" x2="558.40" y2="465.00" stroke="#262626" stroke-width="0.9" />
<line x1="579.80" y1="769.80" x2="579.80" y2="766.80" stroke="#262626" stroke-width="0.9" />
<line x1="579.80" y1="461.00" x2="579.80" y2="464.00" stroke="#262626" stroke-width="0.9" />
<line x1="601.20" y1="769.80" x2="601.20" y2="766.80" stroke="#262626" stroke-width="0.9" />
<line x1="601.20" y1="461.00" x2="601.20" y2="464.00" stroke="#262626" stroke-width="0.9" />
<line x1="622.60" y1="769.80" x2="622.60" y2="766.80" stroke="#262626" stroke-width="0.9" />
<line x1="622.60" y1="461.00" x2="622.60" y2="464.00" stroke="#262626" stroke-width="0.9" />
<line x1="644.00" y1="769.80" x2="644.00" y2="766.80" stroke="#262626" stroke-width="0.9" />
<line x1="644.00" y1="461.00" x2="644.00" y2="464.00" stroke="#262626" stroke-width="0.9" />
<line x1="665.40" y1="769.80" x2="665.40" y2="765.80" stroke="#262626" stroke-width="0.9" />
<line x1="665.40" y1="461.00" x2="665.40" y2="465.00" stroke="#262626" stroke-width="0.9" />
<polyline points="417.60,505.40 454.50,515.90 465.70,535.80 476.20,525.70 486.70,523.00 497.20,531.80 524.30,532.20 550.90,535.20 588.60,544.10 626.10,549.60" fill="none" stroke="#87235f" stroke-width="1.0" stroke-linejoin="round" stroke-dasharray="3,1.2"/>
<polyline points="417.60,534.60 454.50,543.50 465.70,541.00 476.20,562.00 486.70,550.30 497.20,542.80 524.30,566.90 550.90,571.40 588.60,576.40 626.10,581.80" fill="none" stroke="#feb4c4" stroke-width="1.5" stroke-linejoin="round" />
<polyline points="417.60,627.40 454.90,625.70 465.80,639.70 476.30,699.60 487.20,622.70 497.30,583.70 524.00,622.70 551.20,624.80 588.40,620.00 626.10,616.00" fill="none" stroke="#45a78e" stroke-width="1.3" stroke-linejoin="round" />
<polyline points="417.60,581.00 454.90,600.00 465.80,657.20 476.30,656.00 487.20,662.60 498.00,617.60 524.00,641.10 550.90,703.10 588.60,677.60 626.10,559.00" fill="none" stroke="#3f58b0" stroke-width="1.3" stroke-linejoin="round" stroke-dasharray="3.5,2.5"/>
<polyline points="417.60,610.80 454.90,605.90 465.80,621.30 481.60,623.40 486.80,654.60 497.30,638.00 524.00,638.00" fill="none" stroke="#8fd0f2" stroke-width="1.3" stroke-linejoin="round" stroke-dasharray="4,3"/>
<polyline points="417.60,604.10 454.90,619.20 465.80,634.50 476.30,648.50 492.30,634.60 498.00,627.80 518.90,644.20 551.20,653.80 588.40,662.60 626.10,670.40" fill="none" stroke="#f3128b" stroke-width="1.2" stroke-linejoin="round" />
<path d="M417.60,531.00V538.00M414.85,531.00H420.35M414.85,538.00H420.35" stroke="#feb4c4" stroke-width="1.3" fill="none"/>
<rect x="414.35" y="531.35" width="6.5" height="6.5" fill="#feb4c4"/>
<path d="M454.50,533.50V553.80M451.75,533.50H457.25M451.75,553.80H457.25" stroke="#feb4c4" stroke-width="1.3" fill="none"/>
<rect x="451.25" y="540.25" width="6.5" height="6.5" fill="#feb4c4"/>
<path d="M465.70,536.00V546.00M462.95,536.00H468.45M462.95,546.00H468.45" stroke="#feb4c4" stroke-width="1.3" fill="none"/>
<rect x="462.45" y="537.75" width="6.5" height="6.5" fill="#feb4c4"/>
<path d="M476.20,555.70V568.00M473.45,555.70H478.95M473.45,568.00H478.95" stroke="#feb4c4" stroke-width="1.3" fill="none"/>
<rect x="472.95" y="558.75" width="6.5" height="6.5" fill="#feb4c4"/>
<path d="M486.70,542.80V558.00M483.95,542.80H489.45M483.95,558.00H489.45" stroke="#feb4c4" stroke-width="1.3" fill="none"/>
<rect x="483.45" y="547.05" width="6.5" height="6.5" fill="#feb4c4"/>
<path d="M497.20,538.00V547.50M494.45,538.00H499.95M494.45,547.50H499.95" stroke="#feb4c4" stroke-width="1.3" fill="none"/>
<rect x="493.95" y="539.55" width="6.5" height="6.5" fill="#feb4c4"/>
<path d="M524.30,564.00V570.00M521.55,564.00H527.05M521.55,570.00H527.05" stroke="#feb4c4" stroke-width="1.3" fill="none"/>
<rect x="521.05" y="563.65" width="6.5" height="6.5" fill="#feb4c4"/>
<path d="M550.90,569.00V574.00M548.15,569.00H553.65M548.15,574.00H553.65" stroke="#feb4c4" stroke-width="1.3" fill="none"/>
<rect x="547.65" y="568.15" width="6.5" height="6.5" fill="#feb4c4"/>
<path d="M588.60,574.00V579.00M585.85,574.00H591.35M585.85,579.00H591.35" stroke="#feb4c4" stroke-width="1.3" fill="none"/>
<rect x="585.35" y="573.15" width="6.5" height="6.5" fill="#feb4c4"/>
<path d="M626.10,579.00V584.50M623.35,579.00H628.85M623.35,584.50H628.85" stroke="#feb4c4" stroke-width="1.3" fill="none"/>
<rect x="622.85" y="578.55" width="6.5" height="6.5" fill="#feb4c4"/>
<path d="M417.60,500.30V510.10M414.85,500.30H420.35M414.85,510.10H420.35" stroke="#87235f" stroke-width="1.3" fill="none"/>
<path d="M413.10,505.40L422.10,505.40M414.42,502.22L420.78,508.58M417.60,500.90L417.60,509.90M420.78,502.22L414.42,508.58" stroke="#87235f" stroke-width="1.6" fill="none"/>
<path d="M454.50,507.00V525.30M451.75,507.00H457.25M451.75,525.30H457.25" stroke="#87235f" stroke-width="1.3" fill="none"/>
<path d="M450.00,515.90L459.00,515.90M451.32,512.72L457.68,519.08M454.50,511.40L454.50,520.40M457.68,512.72L451.32,519.08" stroke="#87235f" stroke-width="1.6" fill="none"/>
<path d="M465.70,524.60V545.10M462.95,524.60H468.45M462.95,545.10H468.45" stroke="#87235f" stroke-width="1.3" fill="none"/>
<path d="M461.20,535.80L470.20,535.80M462.52,532.62L468.88,538.98M465.70,531.30L465.70,540.30M468.88,532.62L462.52,538.98" stroke="#87235f" stroke-width="1.6" fill="none"/>
<path d="M476.20,518.30V533.50M473.45,518.30H478.95M473.45,533.50H478.95" stroke="#87235f" stroke-width="1.3" fill="none"/>
<path d="M471.70,525.70L480.70,525.70M473.02,522.52L479.38,528.88M476.20,521.20L476.20,530.20M479.38,522.52L473.02,528.88" stroke="#87235f" stroke-width="1.6" fill="none"/>
<path d="M486.70,511.30V535.30M483.95,511.30H489.45M483.95,535.30H489.45" stroke="#87235f" stroke-width="1.3" fill="none"/>
<path d="M482.20,523.00L491.20,523.00M483.52,519.82L489.88,526.18M486.70,518.50L486.70,527.50M489.88,519.82L483.52,526.18" stroke="#87235f" stroke-width="1.6" fill="none"/>
<path d="M497.20,527.00V536.50M494.45,527.00H499.95M494.45,536.50H499.95" stroke="#87235f" stroke-width="1.3" fill="none"/>
<path d="M492.70,531.80L501.70,531.80M494.02,528.62L500.38,534.98M497.20,527.30L497.20,536.30M500.38,528.62L494.02,534.98" stroke="#87235f" stroke-width="1.6" fill="none"/>
<path d="M524.30,526.70V536.40M521.55,526.70H527.05M521.55,536.40H527.05" stroke="#87235f" stroke-width="1.3" fill="none"/>
<path d="M519.80,532.20L528.80,532.20M521.12,529.02L527.48,535.38M524.30,527.70L524.30,536.70M527.48,529.02L521.12,535.38" stroke="#87235f" stroke-width="1.6" fill="none"/>
<path d="M550.90,533.00V537.50M548.15,533.00H553.65M548.15,537.50H553.65" stroke="#87235f" stroke-width="1.3" fill="none"/>
<path d="M546.40,535.20L555.40,535.20M547.72,532.02L554.08,538.38M550.90,530.70L550.90,539.70M554.08,532.02L547.72,538.38" stroke="#87235f" stroke-width="1.6" fill="none"/>
<path d="M588.60,541.00V547.00M585.85,541.00H591.35M585.85,547.00H591.35" stroke="#87235f" stroke-width="1.3" fill="none"/>
<path d="M584.10,544.10L593.10,544.10M585.42,540.92L591.78,547.28M588.60,539.60L588.60,548.60M591.78,540.92L585.42,547.28" stroke="#87235f" stroke-width="1.6" fill="none"/>
<path d="M626.10,547.00V552.00M623.35,547.00H628.85M623.35,552.00H628.85" stroke="#87235f" stroke-width="1.3" fill="none"/>
<path d="M621.60,549.60L630.60,549.60M622.92,546.42L629.28,552.78M626.10,545.10L626.10,554.10M629.28,546.42L622.92,552.78" stroke="#87235f" stroke-width="1.6" fill="none"/>
<path d="M417.60,625.00V630.00M414.85,625.00H420.35M414.85,630.00H420.35" stroke="#45a78e" stroke-width="1.3" fill="none"/>
<circle cx="417.60" cy="627.40" r="4.5" fill="#45a78e"/>
<path d="M454.90,605.00V654.90M452.15,605.00H457.65M452.15,654.90H457.65" stroke="#45a78e" stroke-width="1.3" fill="none"/>
<circle cx="454.90" cy="625.70" r="4.5" fill="#45a78e"/>
<path d="M465.80,625.00V650.00M463.05,625.00H468.55M463.05,650.00H468.55" stroke="#45a78e" stroke-width="1.3" fill="none"/>
<circle cx="465.80" cy="639.70" r="4.5" fill="#45a78e"/>
<path d="M476.30,672.40V726.20M473.55,672.40H479.05M473.55,726.20H479.05" stroke="#45a78e" stroke-width="1.3" fill="none"/>
<circle cx="476.30" cy="699.60" r="4.5" fill="#45a78e"/>
<path d="M487.20,610.00V634.00M484.45,610.00H489.95M484.45,634.00H489.95" stroke="#45a78e" stroke-width="1.3" fill="none"/>
<circle cx="487.20" cy="622.70" r="4.5" fill="#45a78e"/>
<path d="M497.30,573.00V595.00M494.55,573.00H500.05M494.55,595.00H500.05" stroke="#45a78e" stroke-width="1.3" fill="none"/>
<circle cx="497.30" cy="583.70" r="4.5" fill="#45a78e"/>
<path d="M524.00,617.00V629.00M521.25,617.00H526.75M521.25,629.00H526.75" stroke="#45a78e" stroke-width="1.3" fill="none"/>
<circle cx="524.00" cy="622.70" r="4.5" fill="#45a78e"/>
<path d="M551.20,622.00V627.50M548.45,622.00H553.95M548.45,627.50H553.95" stroke="#45a78e" stroke-width="1.3" fill="none"/>
<circle cx="551.20" cy="624.80" r="4.5" fill="#45a78e"/>
<path d="M588.40,617.00V622.50M585.65,617.00H591.15M585.65,622.50H591.15" stroke="#45a78e" stroke-width="1.3" fill="none"/>
<circle cx="588.40" cy="620.00" r="4.5" fill="#45a78e"/>
<path d="M626.10,613.50V618.50M623.35,613.50H628.85M623.35,618.50H628.85" stroke="#45a78e" stroke-width="1.3" fill="none"/>
<circle cx="626.10" cy="616.00" r="4.5" fill="#45a78e"/>
<path d="M417.60,544.70V617.80M414.60,544.70H420.60M414.60,617.80H420.60" stroke="#3f58b0" stroke-width="1.4" fill="none"/>
<polygon points="417.60,574.50 421.80,581.00 417.60,587.50 413.40,581.00" fill="#3f58b0"/>
<path d="M454.90,510.00V689.00M451.90,510.00H457.90M451.90,689.00H457.90" stroke="#3f58b0" stroke-width="1.4" fill="none"/>
<polygon points="454.90,593.50 459.10,600.00 454.90,606.50 450.70,600.00" fill="#3f58b0"/>
<path d="M465.80,591.20V722.70M462.80,591.20H468.80M462.80,722.70H468.80" stroke="#3f58b0" stroke-width="1.4" fill="none"/>
<polygon points="465.80,650.70 470.00,657.20 465.80,663.70 461.60,657.20" fill="#3f58b0"/>
<path d="M476.30,572.60V737.80M473.30,572.60H479.30M473.30,737.80H479.30" stroke="#3f58b0" stroke-width="1.4" fill="none"/>
<polygon points="476.30,649.50 480.50,656.00 476.30,662.50 472.10,656.00" fill="#3f58b0"/>
<path d="M487.20,597.70V728.50M484.20,597.70H490.20M484.20,728.50H490.20" stroke="#3f58b0" stroke-width="1.4" fill="none"/>
<polygon points="487.20,656.10 491.40,662.60 487.20,669.10 483.00,662.60" fill="#3f58b0"/>
<path d="M498.00,567.00V670.80M495.00,567.00H501.00M495.00,670.80H501.00" stroke="#3f58b0" stroke-width="1.4" fill="none"/>
<polygon points="498.00,611.10 502.20,617.60 498.00,624.10 493.80,617.60" fill="#3f58b0"/>
<path d="M524.00,617.60V663.20M521.00,617.60H527.00M521.00,663.20H527.00" stroke="#3f58b0" stroke-width="1.4" fill="none"/>
<polygon points="524.00,634.60 528.20,641.10 524.00,647.60 519.80,641.10" fill="#3f58b0"/>
<path d="M550.90,679.60V726.20M547.90,679.60H553.90M547.90,726.20H553.90" stroke="#3f58b0" stroke-width="1.4" fill="none"/>
<polygon points="550.90,696.60 555.10,703.10 550.90,709.60 546.70,703.10" fill="#3f58b0"/>
<path d="M588.60,657.70V697.40M585.60,657.70H591.60M585.60,697.40H591.60" stroke="#3f58b0" stroke-width="1.4" fill="none"/>
<polygon points="588.60,671.10 592.80,677.60 588.60,684.10 584.40,677.60" fill="#3f58b0"/>
<path d="M626.10,524.70V593.70M623.10,524.70H629.10M623.10,593.70H629.10" stroke="#3f58b0" stroke-width="1.4" fill="none"/>
<polygon points="626.10,552.50 630.30,559.00 626.10,565.50 621.90,559.00" fill="#3f58b0"/>
<path d="M417.60,590.70V617.80M414.60,590.70H420.60M414.60,617.80H420.60" stroke="#8fd0f2" stroke-width="1.4" fill="none"/>
<polygon points="417.60,615.49 422.20,607.67 413.00,607.67" fill="#8fd0f2"/>
<path d="M454.90,581.40V628.30M451.90,581.40H457.90M451.90,628.30H457.90" stroke="#8fd0f2" stroke-width="1.4" fill="none"/>
<polygon points="454.90,610.59 459.50,602.77 450.30,602.77" fill="#8fd0f2"/>
<path d="M465.80,587.50V640.00M462.80,587.50H468.80M462.80,640.00H468.80" stroke="#8fd0f2" stroke-width="1.4" fill="none"/>
<polygon points="465.80,625.99 470.40,618.17 461.20,618.17" fill="#8fd0f2"/>
<path d="M481.60,607.30V638.00M478.60,607.30H484.60M478.60,638.00H484.60" stroke="#8fd0f2" stroke-width="1.4" fill="none"/>
<polygon points="481.60,628.09 486.20,620.27 477.00,620.27" fill="#8fd0f2"/>
<path d="M486.80,640.00V675.90M483.80,640.00H489.80M483.80,675.90H489.80" stroke="#8fd0f2" stroke-width="1.4" fill="none"/>
<polygon points="486.80,659.29 491.40,651.47 482.20,651.47" fill="#8fd0f2"/>
<path d="M497.30,628.00V646.00M494.30,628.00H500.30M494.30,646.00H500.30" stroke="#8fd0f2" stroke-width="1.4" fill="none"/>
<polygon points="497.30,642.69 501.90,634.87 492.70,634.87" fill="#8fd0f2"/>
<path d="M524.00,622.70V648.30M521.00,622.70H527.00M521.00,648.30H527.00" stroke="#8fd0f2" stroke-width="1.4" fill="none"/>
<polygon points="524.00,642.69 528.60,634.87 519.40,634.87" fill="#8fd0f2"/>
<path d="M603.70,630.90V646.20M600.70,630.90H606.70M600.70,646.20H606.70" stroke="#8fd0f2" stroke-width="1.4" fill="none"/>
<polygon points="603.70,643.69 608.30,635.87 599.10,635.87" fill="#8fd0f2"/>
<path d="M417.60,601.00V607.00M415.10,601.00H420.10M415.10,607.00H420.10" stroke="#f3128b" stroke-width="1.2" fill="none"/>
<path d="M414.60,601.10L420.60,607.10M414.60,607.10L420.60,601.10" stroke="#f3128b" stroke-width="2" fill="none"/>
<path d="M454.90,612.20V624.80M452.40,612.20H457.40M452.40,624.80H457.40" stroke="#f3128b" stroke-width="1.2" fill="none"/>
<path d="M451.90,616.20L457.90,622.20M451.90,622.20L457.90,616.20" stroke="#f3128b" stroke-width="2" fill="none"/>
<path d="M465.80,629.00V640.00M463.30,629.00H468.30M463.30,640.00H468.30" stroke="#f3128b" stroke-width="1.2" fill="none"/>
<path d="M462.80,631.50L468.80,637.50M462.80,637.50L468.80,631.50" stroke="#f3128b" stroke-width="2" fill="none"/>
<path d="M476.30,643.00V654.00M473.80,643.00H478.80M473.80,654.00H478.80" stroke="#f3128b" stroke-width="1.2" fill="none"/>
<path d="M473.30,645.50L479.30,651.50M473.30,651.50L479.30,645.50" stroke="#f3128b" stroke-width="2" fill="none"/>
<path d="M492.30,629.00V640.00M489.80,629.00H494.80M489.80,640.00H494.80" stroke="#f3128b" stroke-width="1.2" fill="none"/>
<path d="M489.30,631.60L495.30,637.60M489.30,637.60L495.30,631.60" stroke="#f3128b" stroke-width="2" fill="none"/>
<path d="M498.00,621.00V634.00M495.50,621.00H500.50M495.50,634.00H500.50" stroke="#f3128b" stroke-width="1.2" fill="none"/>
<path d="M495.00,624.80L501.00,630.80M495.00,630.80L501.00,624.80" stroke="#f3128b" stroke-width="2" fill="none"/>
<path d="M518.90,641.00V647.00M516.40,641.00H521.40M516.40,647.00H521.40" stroke="#f3128b" stroke-width="1.2" fill="none"/>
<path d="M515.90,641.20L521.90,647.20M515.90,647.20L521.90,641.20" stroke="#f3128b" stroke-width="2" fill="none"/>
<path d="M551.20,651.00V656.00M548.70,651.00H553.70M548.70,656.00H553.70" stroke="#f3128b" stroke-width="1.2" fill="none"/>
<path d="M548.20,650.80L554.20,656.80M548.20,656.80L554.20,650.80" stroke="#f3128b" stroke-width="2" fill="none"/>
<path d="M588.40,660.00V665.50M585.90,660.00H590.90M585.90,665.50H590.90" stroke="#f3128b" stroke-width="1.2" fill="none"/>
<path d="M585.40,659.60L591.40,665.60M585.40,665.60L591.40,659.60" stroke="#f3128b" stroke-width="2" fill="none"/>
<path d="M626.10,668.00V673.00M623.60,668.00H628.60M623.60,673.00H628.60" stroke="#f3128b" stroke-width="1.2" fill="none"/>
<path d="M623.10,667.40L629.10,673.40M623.10,673.40L629.10,667.40" stroke="#f3128b" stroke-width="2" fill="none"/>
<text transform="translate(410.50,776.80) scale(1,1.06)" x="0" y="0" font-size="19.5" text-anchor="end" fill="#111" font-family='"Liberation Sans", sans-serif' >−250</text>
<text transform="translate(410.50,732.69) scale(1,1.06)" x="0" y="0" font-size="19.5" text-anchor="end" fill="#111" font-family='"Liberation Sans", sans-serif' >−200</text>
<text transform="translate(410.50,688.57) scale(1,1.06)" x="0" y="0" font-size="19.5" text-anchor="end" fill="#111" font-family='"Liberation Sans", sans-serif' >−150</text>
<text transform="translate(410.50,644.46) scale(1,1.06)" x="0" y="0" font-size="19.5" text-anchor="end" fill="#111" font-family='"Liberation Sans", sans-serif' >−100</text>
<text transform="translate(410.50,600.34) scale(1,1.06)" x="0" y="0" font-size="19.5" text-anchor="end" fill="#111" font-family='"Liberation Sans", sans-serif' >−50</text>
<text transform="translate(410.50,556.23) scale(1,1.06)" x="0" y="0" font-size="19.5" text-anchor="end" fill="#111" font-family='"Liberation Sans", sans-serif' >0</text>
<text transform="translate(410.50,512.11) scale(1,1.06)" x="0" y="0" font-size="19.5" text-anchor="end" fill="#111" font-family='"Liberation Sans", sans-serif' >50</text>
<text transform="translate(410.50,468.00) scale(1,1.06)" x="0" y="0" font-size="19.5" text-anchor="end" fill="#111" font-family='"Liberation Sans", sans-serif' >100</text>
<text transform="translate(451.90,790.00) scale(1,1.06)" x="0" y="0" font-size="19.5" text-anchor="middle" fill="#111" font-family='"Liberation Sans", sans-serif' >0</text>
<text transform="translate(558.90,790.00) scale(1,1.06)" x="0" y="0" font-size="19.5" text-anchor="middle" fill="#111" font-family='"Liberation Sans", sans-serif' >50</text>
<text transform="translate(665.90,790.00) scale(1,1.06)" x="0" y="0" font-size="19.5" text-anchor="middle" fill="#111" font-family='"Liberation Sans", sans-serif' >100</text>
<text x="549.80" y="815.20" font-size="19.4" text-anchor="middle" fill="#111" font-family='"Liberation Sans", sans-serif' ><tspan font-style="italic">T</tspan> (°C)</text>
<text transform="translate(356.6,607) rotate(-90)" textLength="134.5" lengthAdjust="spacingAndGlyphs" font-size="20" text-anchor="middle" font-family='"Liberation Sans", sans-serif' fill="#111">ΔS<tspan font-size="13" dy="4.5">hyd</tspan><tspan dy="-4.5"> (kJ mol</tspan><tspan font-size="12" dy="-8">-1</tspan><tspan dy="8">)</tspan></text>
<text x="346.30" y="470.60" font-size="35" text-anchor="start" fill="#000" font-family='"Liberation Sans", sans-serif' font-weight="bold">c</text>
</svg></body></html>
